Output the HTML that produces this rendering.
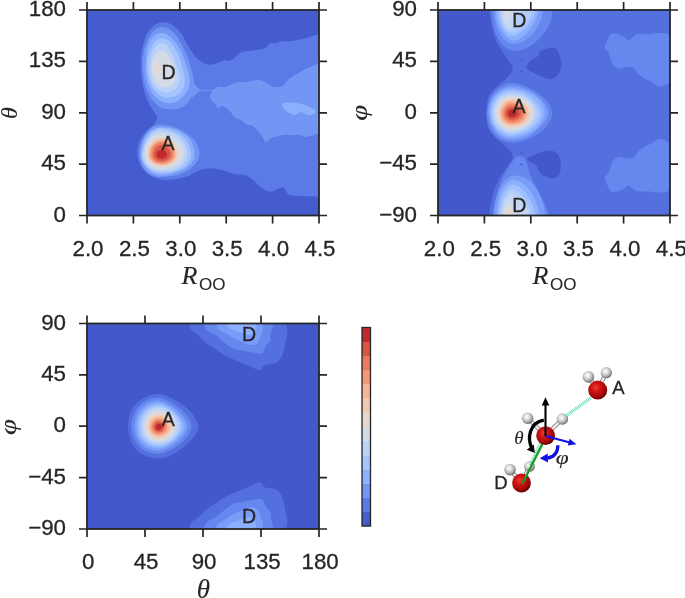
<!DOCTYPE html>
<html><head><meta charset="utf-8"><title>Figure</title>
<style>html,body{margin:0;padding:0;background:#fff}svg{display:block}text{font-family:"Liberation Sans",sans-serif;fill:#262626;stroke:#262626;stroke-width:0.3px}text.m{font-family:"Liberation Serif","DejaVu Serif",serif;font-style:italic;stroke-width:0.1px}tspan.s{font-family:"Liberation Sans",sans-serif;font-style:normal}</style>
</head><body>
<svg width="685" height="598" viewBox="0 0 685 598">
<defs>
<clipPath id="c1"><rect x="87" y="10" width="232" height="205.5"/></clipPath>
<clipPath id="c2"><rect x="438" y="10" width="232" height="205.5"/></clipPath>
<clipPath id="c3"><rect x="87" y="323.5" width="232" height="205.5"/></clipPath>
<radialGradient id="gO" cx="0.4" cy="0.36" r="0.68"><stop offset="0" stop-color="#ee3a3a"/><stop offset="0.35" stop-color="#d01414"/><stop offset="0.75" stop-color="#a00808"/><stop offset="1" stop-color="#5a0000"/></radialGradient>
<radialGradient id="gH" cx="0.42" cy="0.38" r="0.66"><stop offset="0" stop-color="#ffffff"/><stop offset="0.3" stop-color="#e4e4e4"/><stop offset="0.7" stop-color="#a8a8a8"/><stop offset="1" stop-color="#585858"/></radialGradient>
</defs>
<rect width="685" height="598" fill="#fff"/>
<g clip-path="url(#c1)">
<rect x="87" y="10" width="232" height="205.5" fill="#455cce"/>
<path d="M161.3,22.3L157.2,23.6L153.2,26.1L149.5,29.8L146.3,35.0L143.8,41.8L142.0,49.3L140.9,57.6L140.7,66.0L141.2,74.3L142.1,81.8L143.5,88.6L145.2,94.8L147.4,100.7L149.8,105.6L152.6,109.5L154.9,113.0L156.8,115.9L157.0,119.1L155.5,122.3L153.0,125.5L149.3,128.4L145.9,131.7L142.6,135.4L140.2,139.4L138.8,143.7L137.7,147.4L137.0,150.3L137.3,154.7L138.6,160.6L140.7,165.6L143.6,169.8L147.2,173.4L151.3,176.2L155.9,178.3L161.0,179.7L166.4,180.1L172.3,179.6L178.1,178.8L184.0,177.5L189.0,175.7L193.2,173.2L197.0,171.3L200.2,170.0L204.0,169.1L208.2,168.5L211.1,168.2L212.7,168.3L215.9,168.8L220.6,169.7L225.4,171.1L230.3,173.1L236.1,174.2L242.8,174.8L247.6,175.9L250.6,177.9L253.4,180.3L256.3,183.1L258.6,185.6L260.6,187.5L263.9,189.4L268.8,191.4L272.6,191.6L275.6,190.1L278.4,188.7L281.3,187.2L283.4,187.5L284.9,189.4L286.3,191.6L287.8,194.0L291.4,195.4L297.1,195.9L302.4,196.2L307.2,196.2L312.5,196.3L318.1,196.4L321.0,155.9L321.0,74.6L320.1,34.0L318.5,34.0L315.2,35.0L310.5,36.8L305.8,38.3L301.1,39.2L296.3,40.2L291.6,41.1L287.5,41.4L284.2,40.9L280.9,41.3L277.6,42.8L274.6,43.2L271.6,42.8L269.0,43.9L266.7,46.8L263.4,48.7L259.1,49.6L254.6,50.3L249.8,50.8L245.8,51.2L242.5,51.8L239.4,53.4L236.5,56.3L233.7,58.7L230.8,60.5L228.2,61.0L225.9,60.1L223.3,60.3L220.4,61.7L217.1,63.1L213.3,64.6L209.5,64.8L205.7,63.9L202.9,62.7L200.9,61.3L199.0,60.0L197.0,58.6L195.0,56.5L193.0,53.5L191.1,50.7L189.4,48.1L187.4,44.6L185.1,40.2L183.1,36.4L181.1,33.3L178.1,29.8L173.9,26.1L169.7,23.6L165.5,22.3Z" fill="#5b7ae5"/>
<path d="M213.5,89.5L215.7,87.9L217.9,87.0L220.1,86.7L222.3,86.8L224.4,87.3L226.8,86.7L229.5,85.2L232.1,83.9L234.7,82.8L237.0,82.2L239.0,81.9L241.4,81.9L244.1,82.2L247.4,81.9L251.2,81.0L254.5,80.2L257.4,79.8L260.2,80.0L263.1,80.9L266.2,82.6L269.5,85.0L272.4,86.4L274.7,86.9L277.8,86.9L281.6,86.4L284.4,84.8L286.4,81.9L288.7,79.3L291.6,76.9L294.9,74.8L298.7,72.9L302.5,70.7L306.3,68.4L311.4,66.2L317.8,64.0L321.0,80.4L321.0,115.3L318.6,133.4L313.9,134.9L310.1,136.1L307.2,137.0L304.4,136.8L301.4,135.3L298.1,134.8L294.2,135.3L290.4,135.3L286.5,134.8L282.7,135.1L278.9,136.0L275.6,136.8L272.6,137.2L269.8,138.9L266.8,141.9L264.7,141.6L263.2,138.2L261.3,135.1L258.9,132.2L256.3,129.4L253.4,126.5L250.6,125.0L247.6,125.0L245.0,123.7L242.5,121.1L240.4,119.6L238.7,119.2L236.9,118.6L235.2,117.7L233.4,116.0L231.7,113.3L229.7,110.9L227.5,108.8L225.3,107.2L223.1,106.0L220.9,106.2L218.8,107.8L217.2,107.6L216.4,105.9L215.0,103.9L213.3,101.7L211.6,99.9L210.1,98.7L210.1,96.1L211.6,92.2Z" fill="#7396f5"/>
<path d="M199,90.2L213,90.5" stroke="#7396f5" stroke-width="0.9" fill="none"/>
<path d="M283.5,103.0L287.3,102.5L291.6,102.5L296.3,103.0L301.1,103.9L305.8,105.3L309.8,107.0L313.2,108.9L315.2,110.1L315.9,110.4L315.6,111.5L314.2,113.5L312.1,114.7L309.1,115.2L306.0,114.4L302.7,112.5L300.2,112.0L298.8,113.0L297.1,114.0L295.1,114.9L292.3,114.4L288.4,112.5L285.6,110.5L283.6,108.7L282.4,106.6L281.9,104.3Z" fill="#8db0fe"/>
<path d="M193.0,82.0L200.3,90.2L192.0,98.0Z" fill="#7396f5"/>
<path d="M165.4,27.6L167.2,28.1L169.0,28.9L170.7,30.0L172.2,31.2L173.8,32.8L175.2,34.4L176.6,36.1L177.9,38.0L179.1,40.0L180.3,42.1L181.5,44.2L182.7,46.4L183.8,48.6L184.9,50.9L185.9,53.1L186.8,55.4L187.7,57.6L188.5,59.9L189.2,62.1L189.9,64.4L190.6,66.6L191.2,68.8L191.7,70.9L192.2,73.0L192.8,75.0L193.2,76.9L193.6,78.8L193.9,80.6L194.1,82.4L194.2,84.2L194.2,86.1L194.1,88.0L193.9,90.0L193.4,92.0L192.8,94.0L192.0,96.0L191.0,98.0L189.9,99.8L188.7,101.5L187.4,103.1L186.1,104.4L184.5,105.6L182.8,106.7L181.0,107.6L179.0,108.2L176.9,108.8L174.8,109.2L172.6,109.4L170.4,109.4L168.2,109.3L166.2,109.1L164.4,108.8L162.6,108.2L160.9,107.5L159.2,106.6L157.6,105.4L155.9,104.1L154.4,102.6L153.0,101.0L151.6,99.4L150.4,97.6L149.2,95.8L148.2,93.8L147.2,91.6L146.3,89.4L145.5,87.1L144.9,84.7L144.3,82.2L143.9,79.8L143.5,77.0L143.2,74.0L142.9,70.8L142.8,67.2L142.7,64.0L142.7,61.0L142.9,58.2L143.1,55.8L143.5,53.3L143.9,50.9L144.4,48.6L145.1,46.4L145.8,44.1L146.7,41.9L147.7,39.6L148.8,37.4L150.0,35.3L151.2,33.5L152.6,31.9L153.9,30.6L155.4,29.4L156.9,28.5L158.5,27.8L160.1,27.4L161.8,27.2L163.6,27.2Z" fill="#7396f5"/>
<path d="M164.8,33.5L166.4,34.1L167.9,34.9L169.3,35.9L170.6,37.0L171.9,38.3L173.1,39.5L174.3,40.9L175.4,42.3L176.6,43.8L177.6,45.4L178.7,47.2L179.7,49.0L180.7,50.9L181.6,52.9L182.4,54.8L183.2,56.8L183.9,58.7L184.6,60.6L185.3,62.5L185.9,64.3L186.6,66.2L187.2,68.1L187.7,69.9L188.2,71.7L188.7,73.4L189.0,75.1L189.3,76.7L189.5,78.2L189.6,79.7L189.7,81.2L189.6,82.7L189.5,84.3L189.2,86.0L188.8,87.6L188.2,89.2L187.4,90.8L186.5,92.3L185.5,93.8L184.4,95.0L183.3,96.3L182.1,97.4L180.9,98.5L179.6,99.6L178.1,100.6L176.5,101.5L174.8,102.2L173.0,102.7L171.1,103.1L169.1,103.2L167.2,103.0L165.5,102.8L163.9,102.3L162.3,101.8L160.9,101.1L159.4,100.3L158.0,99.3L156.6,98.1L155.3,96.9L154.0,95.5L152.9,94.1L151.8,92.5L150.9,90.9L150.0,89.1L149.3,87.3L148.5,85.3L147.9,83.4L147.3,81.4L146.8,79.4L146.4,77.3L146.0,75.0L145.8,72.5L145.6,69.7L145.5,66.8L145.6,64.1L145.7,61.6L145.8,59.3L146.0,57.3L146.3,55.2L146.5,53.1L146.8,51.1L147.2,49.0L147.7,47.0L148.3,44.9L149.1,42.9L150.1,40.9L151.2,39.1L152.3,37.6L153.5,36.4L154.7,35.3L156.0,34.4L157.4,33.8L158.8,33.3L160.2,33.0L161.7,32.9L163.2,33.1Z" fill="#8db0fe"/>
<path d="M164.0,38.6L165.3,38.9L166.6,39.4L167.8,40.1L168.9,41.0L170.0,42.0L171.1,43.2L172.1,44.4L173.0,45.8L174.0,47.2L174.9,48.6L175.8,50.1L176.7,51.7L177.5,53.3L178.3,55.0L179.0,56.6L179.6,58.3L180.2,60.0L180.6,61.7L181.1,63.4L181.4,65.0L181.8,66.6L182.1,68.2L182.5,69.6L183.0,71.1L183.4,72.5L183.8,73.9L184.1,75.3L184.4,76.6L184.7,77.9L184.8,79.2L184.8,80.6L184.7,82.0L184.6,83.5L184.3,85.0L183.9,86.5L183.4,88.0L182.7,89.5L181.9,90.9L181.0,92.1L180.1,93.2L179.0,94.1L177.9,94.9L176.6,95.6L175.2,96.1L173.8,96.6L172.3,97.0L170.8,97.3L169.2,97.5L167.6,97.7L166.0,97.7L164.6,97.5L163.2,97.1L161.9,96.7L160.7,96.0L159.6,95.1L158.4,94.1L157.3,93.0L156.3,91.9L155.2,90.8L154.3,89.7L153.3,88.6L152.4,87.3L151.6,86.0L150.8,84.6L150.2,83.0L149.6,81.4L149.0,79.7L148.6,77.9L148.2,76.1L147.8,74.2L147.5,72.0L147.3,69.6L147.1,67.0L147.1,64.6L147.1,62.4L147.3,60.4L147.6,58.6L148.0,56.9L148.5,55.3L149.0,53.8L149.5,52.2L150.1,50.6L150.7,49.0L151.4,47.4L152.1,45.7L152.9,44.2L153.8,42.8L154.7,41.6L155.7,40.7L156.8,39.9L157.9,39.3L159.0,38.9L160.2,38.6L161.4,38.5L162.7,38.5Z" fill="#a6c4fe"/>
<path d="M162.9,43.6L164.0,43.9L165.0,44.3L166.0,45.0L166.9,45.8L167.7,46.7L168.5,47.7L169.3,48.8L170.1,50.0L170.8,51.2L171.5,52.4L172.1,53.8L172.8,55.1L173.3,56.5L173.9,57.9L174.4,59.2L174.9,60.6L175.3,61.9L175.8,63.2L176.2,64.5L176.6,65.8L177.1,67.1L177.5,68.4L177.9,69.6L178.3,70.9L178.7,72.1L179.0,73.3L179.2,74.4L179.4,75.5L179.5,76.5L179.5,77.6L179.5,78.7L179.4,79.8L179.3,81.0L179.0,82.3L178.7,83.5L178.2,84.6L177.6,85.8L176.9,86.9L176.2,87.8L175.5,88.7L174.7,89.4L173.8,90.1L172.8,90.7L171.8,91.2L170.7,91.7L169.5,92.0L168.3,92.3L167.0,92.4L165.8,92.3L164.6,92.2L163.4,91.9L162.4,91.6L161.4,91.3L160.5,90.8L159.5,90.3L158.6,89.7L157.6,89.1L156.7,88.4L155.8,87.6L155.0,86.8L154.2,85.8L153.5,84.7L152.9,83.5L152.3,82.2L151.8,80.8L151.4,79.4L151.1,77.9L150.8,76.4L150.5,74.9L150.3,73.3L150.2,71.5L150.1,69.5L150.1,67.4L150.1,65.5L150.2,63.8L150.4,62.2L150.6,60.8L150.8,59.4L151.0,58.0L151.2,56.6L151.5,55.2L151.9,53.8L152.3,52.4L152.8,51.0L153.4,49.7L154.1,48.5L154.9,47.4L155.6,46.5L156.4,45.8L157.3,45.1L158.1,44.6L159.0,44.1L159.9,43.8L160.9,43.6L161.9,43.5Z" fill="#bed2f6"/>
<path d="M162.4,50.8L163.2,51.0L164.0,51.3L164.8,51.7L165.5,52.3L166.2,52.9L166.8,53.6L167.4,54.4L168.0,55.3L168.6,56.2L169.1,57.1L169.7,58.1L170.2,59.0L170.8,60.0L171.3,61.0L171.8,61.9L172.2,63.0L172.6,64.0L173.0,65.0L173.3,66.1L173.5,67.1L173.7,68.1L173.9,69.1L174.1,70.0L174.3,70.9L174.5,71.8L174.7,72.6L174.8,73.4L175.0,74.2L175.1,75.0L175.2,75.8L175.3,76.7L175.2,77.5L175.1,78.4L175.0,79.4L174.7,80.3L174.4,81.2L174.0,82.2L173.6,83.1L173.1,83.9L172.5,84.7L171.9,85.3L171.1,85.8L170.3,86.2L169.5,86.5L168.5,86.7L167.6,86.9L166.6,87.0L165.6,87.1L164.6,87.1L163.7,87.1L162.8,87.1L161.9,87.0L161.1,86.8L160.4,86.4L159.6,85.9L158.9,85.4L158.2,84.7L157.5,83.9L156.9,83.2L156.3,82.4L155.8,81.7L155.3,80.9L154.8,80.0L154.3,79.1L153.9,78.1L153.5,77.1L153.2,76.1L153.0,75.0L152.7,73.9L152.5,72.7L152.3,71.4L152.2,69.9L152.0,68.4L151.9,66.9L151.9,65.5L151.9,64.2L152.1,63.1L152.3,62.0L152.5,61.0L152.9,60.0L153.2,59.1L153.7,58.1L154.1,57.2L154.6,56.3L155.1,55.3L155.6,54.4L156.1,53.6L156.7,52.8L157.3,52.2L157.9,51.6L158.6,51.2L159.3,50.9L160.1,50.8L160.8,50.7L161.6,50.7Z" fill="#d3dbe7"/>
<path d="M158.3,61.6L158.5,61.7L158.7,61.8L158.9,62.0L159.1,62.2L159.2,62.4L159.4,62.6L159.6,62.9L159.7,63.2L159.8,63.5L160.0,63.8L160.1,64.2L160.2,64.5L160.3,64.9L160.4,65.3L160.5,65.7L160.6,66.0L160.7,66.4L160.8,66.7L160.9,67.1L161.0,67.4L161.0,67.8L161.1,68.1L161.2,68.4L161.2,68.8L161.3,69.1L161.3,69.4L161.4,69.7L161.4,70.0L161.5,70.2L161.5,70.5L161.5,70.8L161.5,71.2L161.5,71.5L161.4,71.8L161.3,72.1L161.2,72.4L161.1,72.7L161.0,73.0L160.9,73.3L160.7,73.5L160.6,73.7L160.4,73.9L160.2,74.1L160.0,74.3L159.8,74.4L159.6,74.5L159.3,74.5L159.1,74.5L158.9,74.5L158.6,74.4L158.4,74.3L158.2,74.3L158.0,74.2L157.8,74.1L157.7,73.9L157.5,73.8L157.3,73.6L157.1,73.3L157.0,73.1L156.8,72.9L156.7,72.6L156.5,72.3L156.4,72.0L156.3,71.7L156.2,71.4L156.1,71.0L156.0,70.7L155.9,70.3L155.9,69.9L155.8,69.4L155.8,68.9L155.8,68.4L155.8,67.9L155.8,67.4L155.8,66.9L155.9,66.5L155.9,66.1L155.9,65.7L156.0,65.3L156.0,65.0L156.1,64.6L156.2,64.2L156.3,63.9L156.4,63.5L156.5,63.2L156.6,62.9L156.8,62.6L156.9,62.4L157.1,62.2L157.2,62.0L157.4,61.8L157.6,61.7L157.7,61.6L157.9,61.6L158.1,61.6Z" fill="#e6d7cf"/>
<path d="M199.4,154.6L198.8,157.8L197.4,160.9L195.5,163.7L193.3,166.2L190.9,168.3L188.4,170.2L185.8,171.7L183.3,173.0L180.7,174.0L178.3,174.7L175.8,175.3L173.5,175.7L171.3,176.1L169.2,176.3L167.2,176.5L165.2,176.7L163.3,176.9L161.3,177.0L159.3,177.0L157.4,176.8L155.4,176.5L153.5,175.9L151.7,175.2L149.9,174.3L148.3,173.2L146.7,172.0L145.3,170.6L144.0,169.1L142.9,167.4L142.0,165.7L141.3,163.9L140.8,162.0L140.4,160.2L140.0,158.3L139.8,156.4L139.6,154.6L139.5,152.6L139.6,150.7L139.7,148.8L140.0,146.8L140.4,144.8L141.1,142.9L141.8,140.9L142.7,138.9L143.7,136.9L144.8,134.9L146.2,132.9L147.7,131.0L149.5,129.1L151.5,127.5L153.7,126.2L156.2,125.3L158.7,124.8L161.3,124.7L163.9,124.9L166.5,125.2L169.0,125.7L171.6,126.3L174.1,127.0L176.7,127.9L179.2,129.0L181.7,130.3L184.1,131.7L186.6,133.3L189.0,135.1L191.4,137.2L193.7,139.4L195.7,142.0L197.4,144.9L198.6,148.0L199.3,151.2Z" fill="#7396f5"/>
<path d="M194.4,154.6L194.1,157.4L193.2,160.2L191.9,162.7L190.0,165.0L187.9,166.9L185.6,168.6L183.2,169.9L180.8,170.9L178.5,171.8L176.4,172.5L174.3,173.1L172.4,173.7L170.5,174.2L168.6,174.7L166.8,175.1L165.0,175.3L163.1,175.4L161.3,175.4L159.5,175.3L157.7,175.0L156.0,174.5L154.3,173.9L152.6,173.1L151.1,172.3L149.6,171.3L148.2,170.1L147.0,168.9L145.8,167.6L144.7,166.2L143.8,164.7L142.9,163.2L142.1,161.5L141.4,159.9L140.9,158.1L140.6,156.4L140.5,154.6L140.6,152.7L140.8,150.9L141.1,149.1L141.4,147.3L141.8,145.5L142.3,143.6L142.9,141.7L143.6,139.7L144.5,137.8L145.6,135.9L147.0,134.1L148.6,132.5L150.3,131.0L152.3,129.8L154.4,128.8L156.6,128.0L158.9,127.5L161.3,127.3L163.7,127.3L166.1,127.4L168.5,127.7L170.9,128.1L173.4,128.7L175.8,129.4L178.2,130.4L180.6,131.6L182.9,132.9L185.2,134.5L187.3,136.4L189.2,138.5L190.8,140.8L192.1,143.3L193.1,146.0L193.8,148.8L194.3,151.7Z" fill="#8db0fe"/>
<path d="M190.9,154.6L190.8,157.1L190.1,159.6L189.0,162.0L187.4,164.1L185.6,165.9L183.6,167.4L181.5,168.7L179.5,169.8L177.4,170.6L175.4,171.3L173.4,171.9L171.5,172.3L169.7,172.5L167.9,172.7L166.2,172.8L164.5,172.9L162.9,172.9L161.3,172.9L159.7,172.9L158.1,172.8L156.5,172.6L154.9,172.3L153.3,171.7L151.8,171.0L150.4,170.1L149.1,169.1L147.9,168.0L146.7,166.8L145.7,165.5L144.7,164.2L143.8,162.7L143.0,161.2L142.4,159.6L142.0,158.0L141.8,156.3L141.8,154.6L141.9,152.9L142.2,151.2L142.5,149.5L142.9,147.8L143.3,146.1L143.8,144.4L144.4,142.7L145.1,141.0L146.0,139.2L147.0,137.5L148.2,135.8L149.5,134.1L151.0,132.5L152.7,131.0L154.6,129.7L156.8,128.7L159.0,128.1L161.3,127.9L163.6,128.1L165.9,128.5L168.1,129.0L170.3,129.7L172.5,130.5L174.7,131.4L176.8,132.4L178.9,133.5L181.0,134.9L182.9,136.4L184.6,138.2L186.2,140.2L187.5,142.3L188.6,144.6L189.4,147.0L190.1,149.5L190.6,152.0Z" fill="#a6c4fe"/>
<path d="M187.5,154.6L187.2,156.8L186.5,159.0L185.4,161.0L184.1,162.8L182.6,164.5L181.0,165.9L179.4,167.2L177.7,168.3L175.9,169.2L174.2,169.9L172.4,170.4L170.6,170.7L168.9,170.9L167.3,171.0L165.8,171.1L164.2,171.2L162.8,171.2L161.3,171.3L159.8,171.3L158.4,171.2L156.9,170.9L155.5,170.6L154.1,170.0L152.7,169.4L151.4,168.7L150.1,167.9L148.9,166.9L147.8,165.9L146.7,164.8L145.8,163.5L144.9,162.2L144.3,160.8L143.7,159.3L143.3,157.7L143.1,156.1L143.0,154.6L143.0,153.0L143.1,151.3L143.3,149.7L143.7,148.1L144.1,146.6L144.7,145.0L145.5,143.5L146.3,141.9L147.2,140.4L148.2,138.9L149.2,137.3L150.5,135.7L151.8,134.2L153.4,132.9L155.2,131.7L157.1,130.8L159.2,130.3L161.3,130.2L163.4,130.3L165.5,130.6L167.6,131.1L169.6,131.7L171.7,132.3L173.6,133.2L175.5,134.2L177.4,135.4L179.1,136.8L180.7,138.3L182.1,140.0L183.4,141.8L184.6,143.7L185.6,145.7L186.4,147.8L187.0,150.0L187.4,152.3Z" fill="#bed2f6"/>
<path d="M183.7,154.6L183.4,156.5L182.9,158.4L182.0,160.1L180.9,161.7L179.6,163.1L178.2,164.3L176.7,165.3L175.2,166.2L173.7,166.9L172.2,167.6L170.8,168.1L169.4,168.5L168.0,168.9L166.6,169.2L165.3,169.4L163.9,169.5L162.6,169.6L161.3,169.6L160.0,169.6L158.7,169.5L157.4,169.3L156.0,169.1L154.7,168.7L153.4,168.3L152.1,167.6L151.0,166.9L149.9,166.0L149.0,164.9L148.1,163.8L147.3,162.6L146.6,161.4L146.0,160.1L145.5,158.8L145.0,157.4L144.7,156.0L144.5,154.6L144.5,153.1L144.6,151.6L144.8,150.1L145.1,148.6L145.4,147.2L145.9,145.7L146.5,144.2L147.1,142.7L147.9,141.2L148.9,139.7L150.0,138.4L151.3,137.1L152.7,136.0L154.2,135.0L155.9,134.2L157.6,133.6L159.4,133.2L161.3,133.0L163.2,133.1L165.0,133.4L166.8,133.9L168.6,134.6L170.3,135.3L171.9,136.2L173.5,137.2L175.0,138.2L176.6,139.3L178.0,140.5L179.4,141.9L180.7,143.4L181.7,145.0L182.6,146.8L183.2,148.7L183.5,150.6L183.7,152.6Z" fill="#d3dbe7"/>
<path d="M179.0,154.6L178.9,156.1L178.5,157.6L177.9,159.0L177.1,160.3L176.2,161.5L175.1,162.5L173.9,163.4L172.7,164.1L171.4,164.7L170.2,165.2L169.1,165.6L167.9,166.0L166.8,166.3L165.7,166.6L164.6,166.9L163.5,167.1L162.4,167.2L161.3,167.3L160.2,167.2L159.1,167.1L158.0,166.9L156.9,166.7L155.8,166.3L154.8,165.9L153.7,165.4L152.8,164.7L151.9,164.0L151.0,163.2L150.2,162.3L149.4,161.4L148.7,160.4L148.0,159.4L147.5,158.3L147.0,157.1L146.7,155.8L146.6,154.6L146.6,153.3L146.8,152.0L147.0,150.7L147.3,149.5L147.7,148.2L148.1,146.9L148.6,145.7L149.2,144.4L149.9,143.2L150.8,142.0L151.7,140.9L152.9,139.9L154.1,139.1L155.4,138.4L156.8,137.9L158.3,137.5L159.8,137.3L161.3,137.2L162.8,137.3L164.3,137.5L165.8,137.8L167.2,138.2L168.7,138.8L170.0,139.4L171.4,140.2L172.7,141.0L173.9,142.0L175.1,143.0L176.1,144.2L177.0,145.5L177.7,146.9L178.3,148.4L178.6,149.9L178.9,151.5L179.0,153.0Z" fill="#e6d7cf"/>
<path d="M177.2,154.6L177.0,155.9L176.7,157.3L176.1,158.5L175.4,159.7L174.5,160.7L173.7,161.7L172.7,162.5L171.7,163.3L170.7,164.0L169.7,164.5L168.6,165.0L167.5,165.3L166.4,165.5L165.4,165.7L164.3,165.7L163.3,165.8L162.3,165.8L161.3,165.8L160.3,165.8L159.3,165.7L158.3,165.6L157.4,165.4L156.4,165.1L155.4,164.7L154.5,164.2L153.6,163.7L152.8,163.1L151.9,162.4L151.1,161.7L150.3,160.9L149.6,160.0L149.0,159.0L148.5,158.0L148.1,156.9L147.9,155.7L147.8,154.6L147.8,153.4L147.9,152.2L148.1,151.0L148.3,149.8L148.7,148.7L149.2,147.6L149.8,146.5L150.4,145.4L151.2,144.4L152.0,143.5L152.9,142.6L153.9,141.7L154.9,140.8L156.0,140.0L157.2,139.3L158.5,138.8L159.9,138.5L161.3,138.4L162.7,138.4L164.1,138.7L165.5,139.0L166.8,139.5L168.1,140.0L169.4,140.6L170.6,141.3L171.7,142.1L172.8,143.1L173.8,144.1L174.6,145.3L175.3,146.5L175.9,147.8L176.4,149.1L176.7,150.4L177.0,151.8L177.1,153.2Z" fill="#f2c9b4"/>
<path d="M176.0,154.6L175.9,155.8L175.6,157.1L175.1,158.2L174.4,159.3L173.5,160.3L172.6,161.1L171.7,161.8L170.8,162.5L169.9,163.1L168.9,163.6L168.0,164.0L167.0,164.4L166.0,164.6L165.0,164.8L164.1,164.9L163.1,164.9L162.2,164.9L161.3,164.8L160.4,164.8L159.5,164.7L158.6,164.5L157.7,164.4L156.8,164.1L156.0,163.8L155.1,163.5L154.2,163.0L153.4,162.5L152.5,161.9L151.7,161.3L151.0,160.5L150.4,159.7L149.8,158.7L149.4,157.7L149.2,156.7L149.0,155.6L149.0,154.6L149.1,153.5L149.2,152.4L149.3,151.3L149.5,150.3L149.8,149.2L150.2,148.1L150.6,147.1L151.2,146.1L151.9,145.1L152.7,144.2L153.5,143.4L154.4,142.6L155.4,141.8L156.4,141.1L157.5,140.5L158.7,140.0L160.0,139.6L161.3,139.5L162.6,139.5L163.9,139.6L165.2,140.0L166.5,140.4L167.7,141.0L168.8,141.6L169.8,142.4L170.8,143.2L171.7,144.1L172.5,145.1L173.3,146.2L173.9,147.3L174.4,148.4L174.9,149.6L175.3,150.8L175.6,152.0L175.8,153.3Z" fill="#f7b497"/>
<path d="M174.3,154.6L174.1,155.7L173.8,156.8L173.4,157.8L172.8,158.7L172.1,159.6L171.4,160.4L170.6,161.1L169.8,161.7L168.9,162.2L168.1,162.6L167.2,163.0L166.4,163.3L165.5,163.6L164.7,163.8L163.8,163.9L163.0,164.0L162.1,164.0L161.3,164.0L160.5,163.9L159.7,163.7L158.9,163.6L158.1,163.4L157.3,163.2L156.5,162.9L155.7,162.6L154.9,162.2L154.1,161.7L153.4,161.2L152.8,160.5L152.2,159.8L151.7,159.0L151.2,158.2L150.8,157.4L150.5,156.5L150.2,155.5L150.1,154.6L150.1,153.6L150.1,152.6L150.3,151.6L150.5,150.6L150.8,149.6L151.2,148.7L151.6,147.8L152.1,146.9L152.7,146.0L153.4,145.1L154.2,144.4L155.0,143.7L155.9,143.0L156.9,142.5L157.9,142.0L159.0,141.6L160.2,141.3L161.3,141.1L162.5,141.1L163.7,141.2L164.8,141.4L166.0,141.8L167.0,142.3L168.1,142.9L169.0,143.6L169.9,144.3L170.7,145.2L171.5,146.0L172.2,146.9L172.8,147.9L173.4,148.9L173.8,150.0L174.1,151.1L174.3,152.3L174.3,153.4Z" fill="#f4987a"/>
<path d="M172.8,154.6L172.8,155.6L172.6,156.5L172.2,157.5L171.7,158.3L171.0,159.1L170.3,159.7L169.5,160.3L168.7,160.7L167.9,161.1L167.1,161.4L166.3,161.7L165.6,162.0L164.9,162.2L164.2,162.4L163.5,162.6L162.8,162.7L162.0,162.8L161.3,162.8L160.6,162.8L159.9,162.7L159.1,162.6L158.4,162.5L157.7,162.2L157.0,162.0L156.3,161.7L155.7,161.3L155.1,160.8L154.5,160.3L153.9,159.7L153.4,159.1L152.9,158.5L152.5,157.8L152.2,157.0L151.9,156.2L151.8,155.4L151.8,154.6L151.8,153.7L151.9,152.9L152.1,152.1L152.3,151.3L152.5,150.4L152.7,149.6L153.0,148.7L153.3,147.9L153.8,147.0L154.3,146.2L155.0,145.5L155.7,144.8L156.5,144.3L157.4,143.8L158.3,143.5L159.3,143.3L160.3,143.1L161.3,143.1L162.3,143.1L163.3,143.2L164.3,143.5L165.2,143.8L166.2,144.2L167.0,144.6L167.9,145.2L168.7,145.8L169.4,146.4L170.1,147.1L170.8,147.9L171.3,148.8L171.8,149.7L172.2,150.6L172.4,151.6L172.7,152.6L172.8,153.5Z" fill="#e97a5f"/>
<path d="M170.4,154.6L170.3,155.3L170.1,156.1L169.8,156.8L169.4,157.5L168.9,158.1L168.4,158.7L167.9,159.1L167.3,159.5L166.7,159.9L166.0,160.2L165.4,160.4L164.8,160.6L164.2,160.7L163.6,160.8L163.0,160.9L162.4,161.0L161.9,161.0L161.3,160.9L160.8,160.9L160.2,160.8L159.7,160.7L159.1,160.6L158.6,160.4L158.0,160.3L157.4,160.1L156.9,159.8L156.3,159.5L155.8,159.2L155.4,158.7L155.0,158.2L154.6,157.7L154.3,157.1L154.0,156.5L153.8,155.9L153.7,155.2L153.7,154.6L153.7,153.9L153.7,153.2L153.8,152.5L154.0,151.9L154.2,151.2L154.5,150.6L154.8,150.0L155.2,149.4L155.6,148.8L156.0,148.2L156.5,147.7L157.1,147.2L157.7,146.7L158.3,146.3L159.0,146.0L159.8,145.7L160.5,145.6L161.3,145.5L162.1,145.4L162.9,145.5L163.7,145.6L164.5,145.9L165.2,146.2L165.9,146.6L166.5,147.1L167.1,147.6L167.7,148.2L168.2,148.8L168.7,149.4L169.1,150.0L169.5,150.7L169.9,151.4L170.1,152.2L170.3,153.0L170.4,153.8Z" fill="#d85646"/>
<path d="M167.0,154.6L167.0,155.0L166.8,155.5L166.6,156.0L166.4,156.4L166.1,156.8L165.8,157.1L165.5,157.5L165.1,157.7L164.7,158.0L164.4,158.2L164.0,158.4L163.6,158.5L163.2,158.6L162.8,158.7L162.4,158.7L162.1,158.8L161.7,158.8L161.3,158.9L160.9,158.9L160.6,158.9L160.2,158.8L159.8,158.7L159.4,158.6L159.1,158.5L158.7,158.3L158.3,158.1L158.0,157.9L157.7,157.6L157.4,157.3L157.2,156.9L157.0,156.6L156.8,156.2L156.7,155.8L156.6,155.4L156.5,155.0L156.5,154.6L156.5,154.1L156.5,153.7L156.6,153.3L156.7,152.9L156.9,152.5L157.1,152.1L157.3,151.8L157.6,151.5L157.9,151.2L158.2,150.9L158.6,150.6L158.9,150.4L159.3,150.2L159.7,150.1L160.1,150.0L160.5,149.9L160.9,149.9L161.3,149.9L161.7,149.9L162.1,149.9L162.5,150.0L162.9,150.1L163.3,150.2L163.7,150.4L164.1,150.6L164.5,150.8L164.8,151.0L165.2,151.3L165.6,151.6L165.9,151.9L166.2,152.3L166.5,152.7L166.8,153.1L166.9,153.6L167.0,154.1Z" fill="#c12b30"/>
</g>
<g clip-path="url(#c2)">
<rect x="438" y="10" width="232" height="205.5" fill="#4358cb"/>
<path d="M489.3,-6.5L489.3,0.5L489.3,6.1L489.3,10.3L489.8,15.2L490.7,20.6L491.9,26.6L493.2,33.1L495.3,39.1L498.1,44.6L501.3,50.1L505.0,55.6L508.7,60.9L512.6,65.9L512.6,70.9L508.7,75.9L504.5,80.2L499.9,83.9L495.8,87.6L492.1,91.3L489.5,94.8L487.8,98.3L486.8,103.2L486.5,109.6L486.5,115.9L486.8,122.3L487.8,127.2L489.5,130.7L492.1,134.2L495.8,137.9L499.9,141.5L504.5,145.2L508.7,149.6L512.6,154.6L512.6,159.6L508.7,164.6L505.0,169.8L501.3,175.3L498.1,180.9L495.3,186.4L493.2,192.4L491.9,198.9L490.7,204.8L489.8,210.3L489.3,215.2L489.3,219.4L489.3,225.0L489.3,232.0L542.0,236.6L647.3,238.9L700.0,175.0L700.0,45.0L647.3,-17.5L542.0,-12.5Z" fill="#5470de"/>
<path d="M526.6,65.8L529.4,62.1L532.6,59.3L536.3,57.5L538.6,55.2L539.5,52.4L541.8,50.3L545.5,49.0L549.1,48.1L552.9,47.6L555.6,48.3L557.5,50.1L558.8,52.9L559.8,56.5L560.7,59.8L561.6,62.5L561.6,65.8L560.7,69.4L559.3,72.7L557.5,75.4L555.2,77.5L552.4,78.9L549.2,79.1L545.5,78.2L541.9,76.8L538.1,75.0L534.4,73.2L530.8,71.3L528.0,69.7L526.1,68.3Z" fill="#4358cb"/>
<path d="M530.8,156.2L535.8,154.0L541.3,152.2L547.1,150.7L551.9,150.7L555.5,152.2L558.1,154.4L559.6,157.3L560.5,161.0L560.8,165.3L560.5,169.7L559.3,174.1L557.3,177.0L554.5,178.5L551.5,178.6L548.7,177.6L545.7,176.4L542.8,175.4L540.6,173.7L539.1,171.5L537.8,169.0L536.8,166.0L534.6,163.9L531.2,162.4L528.8,161.0L527.2,159.7L526.8,158.6L527.8,157.7Z" fill="#4358cb"/>
<path d="M604.8,46.1L606.7,42.0L608.3,38.3L609.6,35.1L611.9,33.5L615.2,33.5L618.4,34.2L621.6,35.6L624.6,37.4L627.3,39.7L629.9,39.7L632.1,37.4L634.7,35.6L637.4,34.2L641.1,33.7L645.7,34.2L650.3,33.9L654.9,33.1L660.9,33.1L668.3,33.9L672.0,46.3L672.0,70.2L668.8,83.6L662.2,86.3L657.6,86.6L654.9,84.2L652.1,82.4L649.4,81.1L646.6,79.7L643.9,78.3L641.1,76.4L638.4,74.2L636.3,71.6L634.9,68.9L632.6,67.3L629.4,66.8L626.4,67.0L623.7,68.0L620.9,68.4L618.2,68.4L615.6,67.2L613.4,64.9L611.7,62.2L610.8,59.0L609.8,56.0L609.0,53.3L607.4,51.0L605.0,49.1Z" fill="#6687ed"/>
<path d="M604.8,179.4L606.7,183.5L608.3,187.2L609.6,190.4L611.9,192.0L615.2,192.0L618.4,191.3L621.6,189.9L624.6,188.1L627.3,185.8L629.9,185.8L632.1,188.1L634.7,189.9L637.4,191.3L641.1,191.8L645.7,191.3L650.3,191.5L654.9,192.5L660.9,192.5L668.3,191.5L672.0,179.1L672.0,155.2L668.8,141.9L662.2,139.2L657.6,139.0L654.9,141.2L652.1,143.1L649.4,144.4L646.6,145.8L643.9,147.2L641.1,149.1L638.4,151.3L636.3,153.9L634.9,156.6L632.6,158.2L629.4,158.7L626.4,158.5L623.7,157.5L620.9,157.1L618.2,157.1L615.6,158.2L613.4,160.5L611.7,163.3L610.8,166.5L609.8,169.5L609.0,172.2L607.4,174.5L605.0,176.4Z" fill="#6687ed"/>
<path d="M552.6,8.0L552.5,11.2L552.2,14.5L551.6,17.7L550.8,20.8L549.6,23.9L548.2,26.9L546.5,29.7L544.6,32.4L542.5,35.0L540.2,37.5L537.8,39.9L535.3,42.2L532.5,44.5L529.5,46.5L526.3,48.3L522.8,49.6L519.2,50.5L515.5,50.9L511.8,50.4L508.2,49.2L505.0,47.1L502.2,44.5L499.9,41.5L497.9,38.4L496.4,35.3L495.2,32.2L494.3,29.2L493.5,26.4L493.0,23.8L492.6,21.2L492.2,18.9L491.9,16.6L491.7,14.4L491.5,12.2L491.4,10.1L491.3,8.0L491.4,5.9L491.5,3.8L491.7,1.6L491.9,-0.6L492.1,-2.9L492.4,-5.4L492.7,-7.9L493.2,-10.7L493.9,-13.6L494.8,-16.6L496.1,-19.7L497.8,-22.7L499.8,-25.6L502.3,-28.3L505.2,-30.6L508.4,-32.3L511.9,-33.4L515.5,-33.7L519.1,-33.5L522.7,-32.8L526.2,-31.8L529.5,-30.3L532.6,-28.6L535.5,-26.6L538.2,-24.4L540.7,-22.0L543.0,-19.5L545.0,-16.8L546.9,-14.0L548.4,-11.0L549.8,-8.0L550.8,-4.9L551.6,-1.7L552.2,1.5L552.5,4.8Z" fill="#6687ed"/>
<path d="M543.0,8.0L542.9,10.5L542.5,12.9L542.0,15.3L541.4,17.7L540.6,20.0L539.7,22.4L538.6,24.7L537.5,27.0L536.1,29.3L534.6,31.6L532.8,33.7L530.8,35.8L528.6,37.6L526.2,39.4L523.6,40.9L520.8,42.2L517.9,43.3L514.8,43.9L511.7,43.7L508.7,42.7L505.9,41.1L503.5,39.0L501.5,36.6L499.8,33.9L498.5,31.3L497.5,28.7L496.6,26.2L496.0,23.8L495.4,21.6L495.0,19.4L494.6,17.4L494.4,15.4L494.2,13.5L494.1,11.6L494.1,9.8L494.1,8.0L494.2,6.2L494.2,4.4L494.4,2.5L494.5,0.6L494.8,-1.3L495.1,-3.4L495.6,-5.5L496.2,-7.6L496.9,-9.9L497.7,-12.4L498.7,-14.9L500.0,-17.6L501.6,-20.4L503.5,-23.1L505.8,-25.5L508.5,-27.5L511.6,-28.7L514.8,-28.9L518.0,-28.3L521.0,-27.0L523.7,-25.3L526.2,-23.4L528.5,-21.4L530.6,-19.4L532.5,-17.3L534.3,-15.2L535.8,-13.0L537.2,-10.8L538.4,-8.5L539.5,-6.2L540.4,-3.9L541.2,-1.6L541.8,0.8L542.4,3.1L542.8,5.6Z" fill="#799cf8"/>
<path d="M538.6,8.0L538.5,10.2L538.2,12.3L537.7,14.5L537.1,16.6L536.3,18.6L535.4,20.6L534.3,22.6L533.1,24.5L531.9,26.4L530.5,28.3L529.0,30.2L527.4,32.1L525.7,34.1L523.7,35.9L521.4,37.6L519.0,39.0L516.3,40.1L513.5,40.5L510.7,39.8L508.2,38.3L505.9,36.3L504.0,34.1L502.4,31.8L501.1,29.6L499.9,27.4L499.0,25.3L498.2,23.3L497.6,21.3L497.1,19.5L496.7,17.7L496.4,16.0L496.1,14.3L495.9,12.7L495.8,11.1L495.7,9.6L495.7,8.0L495.8,6.5L496.0,4.9L496.2,3.4L496.4,1.8L496.7,0.2L497.0,-1.5L497.3,-3.3L497.7,-5.2L498.3,-7.2L499.0,-9.3L499.8,-11.5L500.9,-13.7L502.3,-16.0L503.9,-18.3L505.9,-20.4L508.1,-22.3L510.7,-23.8L513.5,-24.5L516.3,-24.1L519.0,-23.1L521.5,-21.7L523.7,-20.1L525.8,-18.3L527.6,-16.3L529.2,-14.4L530.6,-12.4L531.9,-10.4L533.0,-8.4L534.1,-6.4L535.0,-4.4L535.9,-2.4L536.6,-0.4L537.3,1.6L537.9,3.7L538.3,5.8Z" fill="#8db0fe"/>
<path d="M536.2,8.0L535.9,10.0L535.3,12.0L534.6,13.9L533.9,15.8L533.1,17.6L532.2,19.4L531.2,21.1L530.2,22.8L529.0,24.5L527.7,26.2L526.3,27.7L524.7,29.1L523.0,30.5L521.2,31.9L519.2,33.1L517.1,34.3L514.9,35.4L512.5,36.1L510.1,35.5L507.9,34.2L506.0,32.4L504.3,30.4L503.0,28.3L502.0,26.3L501.1,24.3L500.4,22.4L499.8,20.7L499.3,19.1L498.9,17.5L498.6,16.0L498.4,14.6L498.2,13.2L498.1,11.9L498.0,10.6L497.9,9.3L497.9,8.0L497.9,6.7L498.0,5.4L498.1,4.1L498.3,2.8L498.5,1.5L498.8,0.1L499.2,-1.3L499.6,-2.8L500.1,-4.4L500.6,-6.1L501.3,-8.0L502.1,-10.1L503.0,-12.3L504.3,-14.6L505.8,-16.9L507.8,-18.9L510.0,-20.3L512.5,-20.9L515.0,-20.2L517.3,-19.0L519.4,-17.6L521.3,-16.1L523.0,-14.5L524.6,-13.0L526.1,-11.4L527.4,-9.8L528.7,-8.2L529.8,-6.5L530.9,-4.9L531.9,-3.2L532.9,-1.5L533.8,0.3L534.6,2.1L535.3,4.0L535.9,6.0Z" fill="#a1c0ff"/>
<path d="M533.4,8.0L533.0,9.9L532.5,11.7L531.8,13.4L531.1,15.1L530.3,16.8L529.5,18.4L528.6,20.0L527.7,21.6L526.6,23.1L525.4,24.6L524.1,25.9L522.6,27.2L521.0,28.5L519.4,29.6L517.6,30.7L515.7,31.7L513.7,32.6L511.5,33.1L509.4,32.6L507.4,31.2L505.8,29.3L504.5,27.3L503.4,25.3L502.6,23.4L502.0,21.6L501.5,20.0L501.0,18.5L500.7,17.1L500.4,15.8L500.1,14.6L499.9,13.4L499.7,12.3L499.6,11.2L499.5,10.1L499.4,9.1L499.4,8.0L499.4,6.9L499.4,5.9L499.5,4.8L499.7,3.7L499.9,2.6L500.1,1.4L500.4,0.2L500.7,-1.0L501.1,-2.4L501.6,-3.8L502.1,-5.5L502.7,-7.3L503.5,-9.2L504.5,-11.3L505.8,-13.4L507.4,-15.4L509.3,-16.8L511.5,-17.5L513.7,-16.9L515.7,-15.9L517.6,-14.8L519.4,-13.6L521.0,-12.4L522.5,-11.1L524.0,-9.8L525.3,-8.4L526.5,-7.0L527.6,-5.5L528.6,-4.0L529.5,-2.4L530.4,-0.8L531.2,0.8L531.9,2.5L532.6,4.3L533.1,6.1Z" fill="#b3cdfb"/>
<path d="M519.0,8.0L519.0,8.8L519.0,9.6L518.9,10.4L518.8,11.2L518.7,12.0L518.5,12.9L518.2,13.8L517.9,14.7L517.6,15.6L517.3,16.7L516.9,17.8L516.4,19.1L515.9,20.6L515.2,22.3L514.3,24.1L513.2,26.1L511.8,28.0L510.0,29.3L508.2,28.6L506.6,27.1L505.4,25.2L504.4,23.4L503.7,21.6L503.1,20.0L502.6,18.5L502.3,17.2L502.0,16.0L501.8,14.9L501.6,13.9L501.5,12.9L501.4,12.0L501.3,11.2L501.2,10.3L501.2,9.6L501.2,8.8L501.2,8.0L501.3,7.2L501.3,6.5L501.4,5.7L501.5,4.9L501.6,4.1L501.7,3.2L501.8,2.2L501.9,1.2L502.0,0.0L502.2,-1.2L502.6,-2.6L503.0,-4.1L503.6,-5.8L504.3,-7.5L505.3,-9.4L506.6,-11.2L508.2,-12.6L510.0,-13.3L511.8,-12.1L513.2,-10.2L514.4,-8.3L515.2,-6.4L515.9,-4.7L516.5,-3.2L516.9,-1.9L517.3,-0.7L517.6,0.4L517.9,1.4L518.1,2.3L518.3,3.2L518.5,4.1L518.6,4.9L518.7,5.7L518.8,6.4L518.9,7.2Z" fill="#c5d6f2"/>
<path d="M511.5,8.0L511.5,8.4L511.5,8.8L511.5,9.2L511.4,9.6L511.4,10.1L511.4,10.5L511.3,11.0L511.2,11.5L511.1,12.1L511.0,12.8L510.8,13.5L510.6,14.3L510.4,15.3L510.1,16.5L509.7,18.0L509.1,19.8L508.2,21.8L507.0,23.3L505.8,21.8L505.0,19.3L504.6,17.1L504.3,15.4L504.2,14.1L504.1,13.1L504.0,12.3L503.9,11.6L503.9,11.1L503.9,10.6L503.8,10.2L503.8,9.8L503.8,9.5L503.8,9.2L503.8,8.9L503.8,8.6L503.8,8.3L503.8,8.0L503.8,7.7L503.8,7.4L503.8,7.2L503.9,6.9L503.9,6.5L503.9,6.2L503.9,5.8L503.9,5.4L503.9,4.9L504.0,4.4L504.0,3.7L504.0,2.9L504.1,1.8L504.3,0.5L504.5,-1.2L505.0,-3.4L505.8,-6.0L507.0,-7.5L508.2,-5.9L509.1,-3.9L509.7,-2.1L510.1,-0.6L510.4,0.6L510.7,1.6L510.9,2.5L511.0,3.2L511.1,3.9L511.2,4.5L511.2,5.1L511.2,5.5L511.3,6.0L511.3,6.4L511.4,6.8L511.4,7.2L511.5,7.6Z" fill="#d5dbe5"/>
<path d="M492.8,214.9L493.5,208.6L494.6,202.6L496.1,196.7L498.1,190.2L500.6,182.8L503.5,176.3L506.9,170.4L509.9,165.3L512.8,161.0L514.7,158.2L515.6,157.1L518.0,156.5L522.0,156.5L524.9,158.5L526.5,162.6L527.9,166.8L529.1,171.2L530.7,176.0L532.9,181.0L535.5,186.1L538.4,191.3L541.3,197.1L544.2,203.6L547.0,209.7L549.5,215.2L536.2,218.0L507.0,218.0Z" fill="#6687ed"/>
<path d="M545.1,217.5L544.9,220.1L544.5,222.7L544.1,225.3L543.7,227.9L543.1,230.6L542.4,233.3L541.6,236.1L540.6,239.0L539.3,241.8L537.8,244.6L535.9,247.4L533.8,250.1L531.4,252.6L528.6,254.9L525.5,256.8L522.2,258.4L518.7,259.3L515.0,259.6L511.4,258.9L508.0,257.1L505.1,254.5L502.7,251.4L500.7,248.2L499.1,245.0L497.9,242.0L496.9,239.1L496.1,236.4L495.4,233.9L495.0,231.5L494.7,229.2L494.5,227.1L494.4,225.0L494.3,223.1L494.2,221.2L494.1,219.3L494.0,217.5L493.9,215.7L493.9,213.8L494.0,211.9L494.1,209.9L494.3,207.9L494.7,205.8L495.1,203.6L495.6,201.2L496.2,198.7L497.0,196.0L497.9,193.1L499.1,190.0L500.6,186.7L502.6,183.5L505.1,180.4L508.0,177.9L511.4,176.2L515.0,175.6L518.7,175.8L522.2,176.6L525.6,178.1L528.7,180.0L531.4,182.3L533.8,184.9L535.9,187.7L537.6,190.5L539.1,193.4L540.4,196.2L541.5,199.0L542.5,201.7L543.3,204.3L544.0,206.9L544.6,209.6L544.9,212.2L545.1,214.9Z" fill="#799cf8"/>
<path d="M539.5,217.5L539.4,219.7L539.2,221.8L539.0,224.0L538.6,226.2L538.1,228.5L537.4,230.7L536.6,232.9L535.6,235.2L534.5,237.4L533.1,239.6L531.6,241.8L529.9,244.0L528.0,246.3L525.9,248.5L523.5,250.7L520.8,252.7L517.8,254.2L514.6,255.0L511.4,254.5L508.4,252.9L505.8,250.5L503.6,247.6L502.0,244.6L500.6,241.7L499.6,239.0L498.7,236.4L498.1,234.0L497.5,231.8L497.1,229.7L496.8,227.8L496.6,225.9L496.5,224.1L496.4,222.4L496.3,220.7L496.3,219.1L496.3,217.5L496.4,215.9L496.5,214.3L496.6,212.7L496.8,211.0L497.0,209.3L497.3,207.5L497.5,205.5L497.8,203.4L498.2,201.1L498.7,198.6L499.4,195.9L500.4,192.9L501.7,189.9L503.5,186.9L505.7,184.2L508.3,181.9L511.4,180.4L514.6,180.0L517.8,180.7L520.8,182.1L523.6,183.9L526.1,186.0L528.3,188.2L530.1,190.6L531.7,193.0L533.1,195.4L534.3,197.8L535.3,200.2L536.1,202.4L536.9,204.6L537.6,206.8L538.2,208.9L538.6,211.1L539.0,213.2L539.3,215.3Z" fill="#8db0fe"/>
<path d="M535.9,217.5L535.7,219.4L535.5,221.3L535.1,223.2L534.6,225.0L534.0,226.9L533.3,228.7L532.5,230.5L531.6,232.3L530.6,234.2L529.4,236.0L528.2,237.9L526.9,240.0L525.4,242.1L523.6,244.2L521.7,246.4L519.4,248.5L516.8,250.2L513.9,251.1L511.0,250.4L508.4,248.6L506.2,246.2L504.4,243.5L503.0,240.8L501.9,238.2L501.1,235.8L500.4,233.6L499.8,231.6L499.4,229.7L499.1,227.9L498.8,226.2L498.7,224.6L498.5,223.1L498.5,221.6L498.4,220.2L498.4,218.9L498.3,217.5L498.4,216.1L498.4,214.8L498.5,213.4L498.6,211.9L498.7,210.4L498.9,208.8L499.1,207.2L499.4,205.3L499.7,203.3L500.2,201.2L500.9,198.9L501.7,196.4L502.9,193.9L504.4,191.4L506.2,188.9L508.5,186.8L511.1,185.3L513.9,184.7L516.7,185.5L519.3,186.9L521.6,188.7L523.7,190.6L525.5,192.6L527.1,194.7L528.5,196.7L529.6,198.7L530.7,200.7L531.6,202.7L532.4,204.5L533.2,206.4L533.9,208.2L534.5,210.0L535.0,211.8L535.5,213.7L535.8,215.6Z" fill="#a1c0ff"/>
<path d="M532.1,217.5L531.8,219.1L531.4,220.7L530.9,222.3L530.4,223.8L529.9,225.4L529.4,227.0L528.8,228.6L528.1,230.2L527.4,231.9L526.5,233.5L525.4,235.2L524.2,236.9L522.9,238.6L521.3,240.4L519.6,242.2L517.7,243.9L515.4,245.5L513.0,246.5L510.5,245.8L508.3,244.1L506.5,241.8L505.0,239.4L503.9,237.0L503.1,234.7L502.4,232.6L501.9,230.7L501.5,229.0L501.2,227.4L500.9,226.0L500.7,224.6L500.5,223.3L500.3,222.1L500.2,220.9L500.1,219.8L500.0,218.6L499.9,217.5L499.8,216.3L499.8,215.2L499.9,214.0L500.0,212.8L500.1,211.5L500.4,210.2L500.7,208.9L501.0,207.4L501.4,205.9L501.9,204.2L502.4,202.4L503.1,200.4L504.0,198.2L505.1,195.8L506.5,193.4L508.4,191.2L510.6,189.6L513.0,188.9L515.4,189.9L517.6,191.4L519.5,193.1L521.3,194.8L522.8,196.5L524.2,198.2L525.4,199.8L526.5,201.4L527.4,203.1L528.3,204.7L529.1,206.2L529.8,207.8L530.4,209.4L530.9,211.0L531.4,212.6L531.8,214.2L532.0,215.8Z" fill="#b3cdfb"/>
<path d="M529.3,217.5L529.1,219.0L528.7,220.5L528.2,221.9L527.7,223.3L527.1,224.6L526.5,226.0L525.8,227.3L525.1,228.6L524.3,230.0L523.4,231.4L522.5,232.7L521.4,234.1L520.2,235.5L518.8,236.8L517.3,238.1L515.7,239.4L513.8,240.5L511.8,241.2L509.8,240.6L508.0,239.1L506.5,237.2L505.4,235.2L504.5,233.2L503.8,231.3L503.4,229.6L503.0,228.0L502.8,226.5L502.6,225.2L502.4,224.1L502.3,223.0L502.1,222.0L502.0,221.1L501.9,220.2L501.8,219.3L501.8,218.4L501.7,217.5L501.7,216.6L501.8,215.7L501.8,214.8L501.9,213.9L501.9,212.9L502.1,211.9L502.2,210.8L502.4,209.6L502.7,208.4L503.0,207.0L503.4,205.5L503.9,203.9L504.6,202.1L505.5,200.1L506.6,198.0L508.0,196.0L509.8,194.4L511.8,193.8L513.8,194.5L515.6,195.7L517.3,197.1L518.7,198.4L520.1,199.8L521.3,201.1L522.4,202.4L523.4,203.6L524.4,204.9L525.3,206.2L526.1,207.5L526.8,208.8L527.4,210.2L527.9,211.6L528.4,213.1L528.8,214.5L529.1,216.0Z" fill="#c5d6f2"/>
<path d="M518.0,217.5L518.0,218.3L517.8,219.0L517.7,219.8L517.5,220.5L517.2,221.2L517.0,222.0L516.8,222.8L516.5,223.6L516.2,224.5L515.9,225.5L515.5,226.5L515.0,227.5L514.4,228.7L513.7,229.9L512.9,231.1L511.8,232.4L510.6,233.5L509.2,234.2L507.8,233.4L506.7,231.8L505.8,230.0L505.3,228.3L504.9,226.8L504.6,225.5L504.4,224.4L504.2,223.5L504.1,222.6L504.0,221.9L503.9,221.2L503.8,220.6L503.7,220.1L503.7,219.5L503.6,219.0L503.6,218.5L503.6,218.0L503.6,217.5L503.6,217.0L503.6,216.5L503.6,216.0L503.6,215.5L503.6,214.9L503.7,214.3L503.7,213.7L503.8,213.0L504.0,212.3L504.1,211.4L504.3,210.5L504.6,209.5L504.9,208.2L505.3,206.8L505.9,205.2L506.7,203.5L507.8,201.9L509.2,201.2L510.6,201.8L511.8,202.9L512.8,204.1L513.7,205.2L514.4,206.4L515.0,207.4L515.5,208.4L516.0,209.4L516.4,210.3L516.7,211.2L516.9,212.1L517.1,212.9L517.3,213.7L517.5,214.5L517.7,215.2L517.8,216.0L518.0,216.7Z" fill="#d5dbe5"/>
<path d="M512.5,217.5L512.5,217.9L512.5,218.3L512.4,218.7L512.4,219.1L512.3,219.5L512.2,219.9L512.1,220.4L512.0,220.8L511.8,221.3L511.7,221.9L511.5,222.5L511.2,223.1L511.0,223.9L510.6,224.7L510.2,225.6L509.6,226.5L508.9,227.4L508.0,228.0L507.1,227.3L506.5,226.1L506.0,224.8L505.7,223.7L505.5,222.8L505.4,222.0L505.3,221.3L505.2,220.8L505.2,220.3L505.1,219.9L505.1,219.5L505.0,219.2L505.0,218.9L505.0,218.6L505.0,218.3L505.0,218.0L505.0,217.8L505.0,217.5L505.0,217.2L505.0,217.0L505.0,216.7L505.1,216.4L505.1,216.1L505.1,215.8L505.1,215.5L505.1,215.1L505.2,214.7L505.2,214.2L505.3,213.6L505.4,213.0L505.5,212.2L505.7,211.3L506.0,210.2L506.5,208.9L507.1,207.6L508.0,207.0L508.9,207.5L509.6,208.4L510.2,209.4L510.6,210.3L511.0,211.1L511.3,211.9L511.5,212.5L511.7,213.1L511.8,213.7L512.0,214.2L512.1,214.7L512.1,215.1L512.2,215.5L512.3,215.9L512.3,216.3L512.4,216.7L512.4,217.1Z" fill="#e4d9d2"/>
<circle cx="521.5" cy="60.5" r="1.1" fill="#4358cb"/>
<circle cx="521.5" cy="71.5" r="1.1" fill="#4358cb"/>
<circle cx="521.5" cy="153.5" r="1.1" fill="#4358cb"/>
<circle cx="521.5" cy="164.5" r="1.1" fill="#4358cb"/>
<path d="M552.3,113.1L551.7,116.6L550.5,119.9L548.8,123.0L546.8,125.8L544.6,128.4L542.2,130.6L539.7,132.6L537.2,134.4L534.7,135.9L532.2,137.3L529.7,138.5L527.2,139.6L524.7,140.5L522.1,141.2L519.6,141.8L517.0,142.2L514.5,142.4L511.9,142.5L509.3,142.3L506.8,141.9L504.3,141.3L501.9,140.5L499.7,139.4L497.5,138.0L495.6,136.4L493.9,134.6L492.4,132.7L491.1,130.6L490.1,128.4L489.2,126.3L488.4,124.1L487.8,121.9L487.3,119.7L487.0,117.5L486.7,115.3L486.7,113.1L486.8,110.9L487.1,108.8L487.5,106.6L488.0,104.4L488.7,102.3L489.4,100.2L490.4,98.1L491.5,96.0L492.7,94.0L494.2,92.1L495.9,90.3L497.7,88.6L499.7,87.0L501.9,85.7L504.2,84.5L506.7,83.6L509.3,83.0L511.9,82.7L514.5,82.9L517.1,83.4L519.7,84.1L522.2,84.9L524.6,85.9L527.0,87.0L529.4,88.2L531.8,89.4L534.3,90.8L536.8,92.3L539.3,93.9L541.8,95.9L544.2,98.1L546.5,100.5L548.6,103.3L550.3,106.4L551.6,109.7Z" fill="#6687ed"/>
<path d="M548.3,113.1L547.6,116.3L546.3,119.2L544.6,121.9L542.6,124.3L540.5,126.5L538.4,128.5L536.3,130.3L534.3,131.9L532.2,133.4L530.1,134.9L528.0,136.1L525.8,137.2L523.6,138.1L521.3,138.9L518.9,139.4L516.6,139.8L514.2,140.0L511.9,140.1L509.6,139.9L507.2,139.6L505.0,139.0L502.8,138.1L500.8,137.0L498.9,135.7L497.2,134.2L495.6,132.5L494.2,130.8L493.0,129.0L491.9,127.1L491.0,125.2L490.2,123.3L489.5,121.3L489.0,119.3L488.6,117.2L488.4,115.2L488.3,113.1L488.3,111.1L488.4,109.0L488.6,106.9L489.0,104.8L489.6,102.7L490.3,100.7L491.3,98.7L492.5,96.8L493.9,95.1L495.4,93.5L497.1,92.0L498.9,90.6L500.8,89.3L502.8,88.2L504.9,87.2L507.2,86.4L509.5,85.8L511.9,85.6L514.3,85.8L516.7,86.1L519.0,86.7L521.3,87.4L523.6,88.1L525.8,89.0L528.1,90.0L530.4,91.1L532.7,92.3L535.0,93.8L537.2,95.4L539.4,97.3L541.5,99.3L543.4,101.7L545.2,104.2L546.7,107.0L547.8,110.0Z" fill="#799cf8"/>
<path d="M544.8,113.1L544.3,116.0L543.3,118.7L542.1,121.2L540.6,123.6L538.9,125.7L537.1,127.7L535.1,129.4L533.1,130.9L531.0,132.2L528.9,133.3L526.7,134.3L524.6,135.1L522.5,135.9L520.4,136.5L518.3,137.0L516.2,137.4L514.0,137.7L511.9,137.9L509.7,137.8L507.6,137.5L505.5,136.9L503.5,136.2L501.6,135.2L499.8,134.1L498.1,132.8L496.6,131.3L495.3,129.7L494.2,128.0L493.2,126.2L492.4,124.4L491.7,122.5L491.2,120.7L490.7,118.8L490.2,117.0L489.9,115.1L489.7,113.1L489.6,111.2L489.7,109.2L490.0,107.3L490.5,105.4L491.2,103.5L492.0,101.6L492.9,99.8L494.0,98.1L495.2,96.4L496.5,94.8L498.0,93.3L499.6,91.9L501.4,90.7L503.4,89.7L505.4,89.0L507.5,88.5L509.7,88.2L511.9,88.1L514.1,88.2L516.2,88.5L518.4,88.9L520.5,89.4L522.7,90.0L524.8,90.8L526.9,91.7L529.1,92.7L531.2,93.8L533.4,95.1L535.6,96.5L537.7,98.2L539.7,100.2L541.5,102.4L543.0,104.8L544.0,107.5L544.7,110.3Z" fill="#8db0fe"/>
<path d="M541.6,113.1L541.4,115.7L540.6,118.2L539.5,120.5L538.1,122.7L536.4,124.6L534.7,126.3L532.9,127.8L531.0,129.2L529.1,130.4L527.2,131.4L525.3,132.3L523.4,133.1L521.5,133.7L519.6,134.3L517.7,134.8L515.8,135.2L513.9,135.5L511.9,135.7L509.9,135.7L508.0,135.5L506.0,135.0L504.2,134.2L502.5,133.3L500.8,132.3L499.3,131.1L497.9,129.9L496.5,128.5L495.3,127.1L494.2,125.5L493.3,123.9L492.5,122.2L491.9,120.4L491.6,118.6L491.3,116.8L491.2,114.9L491.2,113.1L491.3,111.3L491.5,109.5L491.8,107.8L492.2,106.0L492.7,104.2L493.4,102.5L494.2,100.8L495.2,99.1L496.3,97.6L497.6,96.1L499.0,94.8L500.6,93.6L502.3,92.5L504.1,91.6L506.0,91.0L507.9,90.6L509.9,90.4L511.9,90.4L513.9,90.6L515.8,90.8L517.8,91.2L519.7,91.6L521.7,92.1L523.7,92.7L525.6,93.5L527.5,94.5L529.4,95.7L531.2,97.0L532.9,98.4L534.6,100.0L536.2,101.8L537.8,103.7L539.2,105.8L540.4,108.1L541.2,110.6Z" fill="#a1c0ff"/>
<path d="M538.7,113.1L538.4,115.5L537.8,117.7L536.8,119.8L535.5,121.7L534.1,123.5L532.6,125.1L531.0,126.5L529.3,127.8L527.6,128.9L525.9,129.8L524.2,130.7L522.4,131.4L520.7,132.0L519.0,132.5L517.2,133.0L515.5,133.4L513.7,133.6L511.9,133.8L510.1,133.7L508.3,133.4L506.6,133.0L504.9,132.4L503.3,131.6L501.7,130.7L500.3,129.7L498.9,128.7L497.6,127.5L496.4,126.2L495.3,124.7L494.5,123.2L493.8,121.6L493.3,119.9L493.0,118.2L492.8,116.5L492.7,114.8L492.6,113.1L492.7,111.5L492.9,109.8L493.1,108.1L493.5,106.5L494.1,104.8L494.7,103.2L495.6,101.7L496.5,100.2L497.6,98.8L498.8,97.5L500.1,96.3L501.5,95.2L503.1,94.3L504.7,93.5L506.5,92.9L508.3,92.5L510.1,92.3L511.9,92.3L513.7,92.4L515.5,92.6L517.3,92.9L519.1,93.3L520.9,93.8L522.7,94.5L524.4,95.3L526.0,96.3L527.7,97.4L529.2,98.6L530.8,99.9L532.3,101.4L533.8,102.9L535.2,104.6L536.5,106.5L537.6,108.6L538.3,110.8Z" fill="#b3cdfb"/>
<path d="M535.4,113.1L535.2,115.2L534.7,117.2L534.0,119.0L533.0,120.8L531.9,122.5L530.6,124.0L529.2,125.3L527.7,126.4L526.2,127.4L524.6,128.3L523.1,129.1L521.5,129.9L520.0,130.5L518.4,131.1L516.8,131.6L515.2,132.0L513.6,132.2L511.9,132.3L510.2,132.2L508.6,131.9L507.0,131.4L505.5,130.8L504.0,130.1L502.6,129.3L501.3,128.3L500.1,127.2L499.0,126.1L498.0,124.8L497.1,123.5L496.3,122.2L495.5,120.8L494.9,119.3L494.4,117.8L493.9,116.3L493.7,114.7L493.5,113.1L493.6,111.5L493.8,110.0L494.2,108.4L494.7,106.9L495.3,105.4L496.0,104.0L496.8,102.6L497.7,101.2L498.7,99.9L499.8,98.8L501.1,97.7L502.5,96.8L503.9,96.0L505.5,95.5L507.0,95.0L508.6,94.7L510.3,94.5L511.9,94.4L513.5,94.5L515.2,94.6L516.8,94.8L518.4,95.2L520.1,95.6L521.7,96.2L523.3,96.8L524.9,97.6L526.5,98.5L528.0,99.6L529.5,100.8L530.9,102.2L532.2,103.7L533.3,105.4L534.2,107.2L534.8,109.1L535.3,111.1Z" fill="#c5d6f2"/>
<path d="M533.8,113.1L533.6,115.0L533.3,116.9L532.6,118.7L531.8,120.4L530.7,121.9L529.5,123.3L528.1,124.5L526.7,125.5L525.2,126.4L523.7,127.2L522.2,127.8L520.7,128.4L519.3,129.0L517.8,129.4L516.4,129.8L514.9,130.1L513.4,130.3L511.9,130.4L510.4,130.3L508.9,130.1L507.5,129.7L506.1,129.2L504.7,128.5L503.4,127.8L502.2,127.0L501.0,126.1L500.0,125.1L499.0,123.9L498.2,122.7L497.5,121.5L496.9,120.1L496.5,118.8L496.1,117.4L495.9,116.0L495.7,114.6L495.7,113.1L495.7,111.7L495.9,110.3L496.2,108.9L496.5,107.6L497.0,106.2L497.6,104.9L498.2,103.6L499.0,102.3L499.9,101.1L500.9,100.0L502.0,99.0L503.2,98.1L504.6,97.4L506.0,96.9L507.4,96.5L508.9,96.3L510.4,96.1L511.9,96.1L513.4,96.1L514.9,96.2L516.4,96.4L517.9,96.6L519.4,97.0L520.9,97.5L522.4,98.2L523.8,98.9L525.3,99.8L526.7,100.7L528.0,101.8L529.4,103.1L530.6,104.4L531.7,105.9L532.6,107.6L533.2,109.4L533.6,111.2Z" fill="#d5dbe5"/>
<path d="M531.6,113.1L531.4,114.8L531.0,116.5L530.4,118.1L529.6,119.6L528.7,121.0L527.6,122.2L526.5,123.3L525.2,124.3L523.9,125.1L522.5,125.8L521.2,126.4L519.8,126.8L518.5,127.2L517.1,127.5L515.8,127.8L514.5,128.1L513.2,128.3L511.9,128.5L510.6,128.5L509.2,128.4L507.9,128.0L506.6,127.6L505.5,127.0L504.3,126.2L503.3,125.4L502.3,124.5L501.4,123.6L500.6,122.6L499.9,121.5L499.3,120.4L498.8,119.3L498.3,118.1L498.0,116.9L497.8,115.6L497.7,114.4L497.6,113.1L497.6,111.9L497.7,110.6L498.0,109.4L498.3,108.2L498.7,107.0L499.2,105.8L499.8,104.7L500.5,103.6L501.3,102.6L502.2,101.6L503.1,100.6L504.2,99.8L505.3,99.1L506.6,98.5L507.9,98.1L509.2,97.8L510.5,97.7L511.9,97.8L513.2,97.9L514.6,98.1L515.9,98.3L517.2,98.5L518.6,98.8L520.0,99.2L521.3,99.7L522.7,100.3L524.0,101.0L525.3,101.9L526.6,102.9L527.7,104.0L528.8,105.3L529.8,106.6L530.5,108.1L531.1,109.7L531.5,111.4Z" fill="#e4d9d2"/>
<path d="M529.6,113.1L529.6,114.7L529.3,116.2L528.9,117.7L528.3,119.1L527.5,120.4L526.5,121.6L525.4,122.6L524.2,123.5L523.0,124.2L521.7,124.8L520.4,125.3L519.1,125.7L517.9,126.1L516.7,126.4L515.5,126.6L514.3,126.8L513.1,126.9L511.9,126.9L510.7,126.9L509.5,126.7L508.4,126.3L507.3,125.9L506.2,125.4L505.2,124.8L504.2,124.1L503.3,123.4L502.5,122.6L501.7,121.7L501.0,120.7L500.5,119.7L500.0,118.7L499.6,117.6L499.3,116.5L499.0,115.4L498.9,114.3L498.9,113.1L499.0,112.0L499.1,110.9L499.4,109.8L499.8,108.7L500.2,107.7L500.7,106.7L501.3,105.7L501.8,104.7L502.5,103.7L503.2,102.8L504.1,102.0L505.0,101.2L506.0,100.5L507.1,100.0L508.3,99.6L509.5,99.3L510.7,99.1L511.9,99.1L513.1,99.1L514.4,99.2L515.6,99.3L516.9,99.5L518.1,99.8L519.3,100.2L520.6,100.8L521.8,101.4L522.9,102.1L524.1,102.9L525.2,103.8L526.2,104.9L527.2,106.0L528.0,107.3L528.7,108.6L529.2,110.1L529.5,111.6Z" fill="#efcebd"/>
<path d="M528.5,113.1L528.3,114.6L528.0,116.0L527.5,117.3L526.8,118.6L526.0,119.7L525.0,120.7L524.0,121.6L522.9,122.4L521.8,123.1L520.7,123.7L519.6,124.2L518.5,124.7L517.4,125.0L516.3,125.3L515.2,125.5L514.1,125.6L513.0,125.7L511.9,125.7L510.8,125.6L509.7,125.5L508.6,125.3L507.6,125.0L506.6,124.6L505.6,124.1L504.7,123.5L503.8,122.8L503.1,122.0L502.4,121.1L501.9,120.2L501.4,119.2L501.0,118.2L500.7,117.2L500.4,116.2L500.2,115.2L500.1,114.2L500.1,113.1L500.1,112.1L500.2,111.1L500.4,110.1L500.7,109.0L501.0,108.0L501.4,107.1L501.8,106.1L502.4,105.2L503.1,104.3L503.8,103.5L504.7,102.8L505.6,102.2L506.5,101.6L507.5,101.1L508.6,100.7L509.7,100.4L510.8,100.2L511.9,100.1L513.0,100.1L514.2,100.3L515.3,100.5L516.4,100.8L517.5,101.1L518.6,101.6L519.7,102.1L520.8,102.6L521.9,103.2L523.0,103.8L524.1,104.6L525.1,105.5L526.0,106.5L526.9,107.7L527.5,108.9L528.0,110.3L528.3,111.7Z" fill="#f5c0a7"/>
<path d="M526.8,113.1L526.7,114.4L526.4,115.7L526.0,116.9L525.4,118.1L524.8,119.1L524.0,120.1L523.1,121.0L522.1,121.7L521.1,122.3L520.0,122.8L518.9,123.2L517.9,123.5L516.9,123.8L515.9,124.0L514.9,124.2L513.9,124.4L512.9,124.5L511.9,124.5L510.9,124.5L509.9,124.4L508.9,124.2L508.0,123.9L507.1,123.5L506.2,123.0L505.4,122.5L504.6,121.8L503.9,121.1L503.3,120.4L502.8,119.5L502.3,118.7L501.9,117.8L501.6,116.9L501.4,116.0L501.2,115.0L501.1,114.1L501.0,113.1L501.0,112.2L501.1,111.2L501.4,110.3L501.6,109.4L502.0,108.5L502.4,107.7L502.9,106.8L503.4,106.0L504.0,105.2L504.6,104.5L505.3,103.7L506.1,103.1L506.9,102.5L507.9,102.0L508.8,101.7L509.8,101.5L510.9,101.4L511.9,101.4L512.9,101.4L513.9,101.5L515.0,101.7L516.0,101.9L517.0,102.2L518.0,102.6L519.0,103.0L520.0,103.5L521.0,104.0L522.0,104.7L522.9,105.4L523.9,106.2L524.7,107.2L525.4,108.2L526.0,109.4L526.5,110.6L526.7,111.8Z" fill="#f7af91"/>
<path d="M525.2,113.1L525.1,114.3L524.8,115.4L524.4,116.5L523.9,117.5L523.3,118.4L522.6,119.3L521.8,120.1L521.0,120.8L520.2,121.4L519.2,121.9L518.3,122.3L517.4,122.6L516.5,122.9L515.5,123.1L514.6,123.3L513.7,123.4L512.8,123.5L511.9,123.5L511.0,123.4L510.1,123.3L509.2,123.0L508.4,122.7L507.6,122.3L506.8,121.9L506.1,121.4L505.5,120.8L504.9,120.2L504.3,119.5L503.8,118.8L503.4,118.0L503.1,117.2L502.8,116.5L502.5,115.6L502.3,114.8L502.2,114.0L502.1,113.1L502.1,112.3L502.1,111.4L502.3,110.6L502.5,109.7L502.9,108.9L503.3,108.2L503.8,107.5L504.3,106.8L504.9,106.1L505.5,105.5L506.2,104.9L506.9,104.4L507.6,104.0L508.4,103.6L509.3,103.3L510.1,103.1L511.0,102.9L511.9,102.9L512.8,102.9L513.7,102.9L514.6,103.0L515.5,103.2L516.4,103.4L517.4,103.7L518.3,104.0L519.2,104.4L520.1,104.9L521.0,105.5L521.9,106.1L522.7,106.9L523.5,107.7L524.2,108.7L524.7,109.7L525.1,110.8L525.2,112.0Z" fill="#f4987a"/>
<path d="M523.6,113.1L523.6,114.2L523.4,115.2L523.1,116.1L522.6,117.0L522.0,117.8L521.3,118.6L520.5,119.2L519.7,119.7L518.9,120.1L518.1,120.5L517.3,120.8L516.5,121.1L515.7,121.3L514.9,121.5L514.2,121.7L513.4,121.8L512.7,121.8L511.9,121.9L511.1,121.9L510.4,121.8L509.6,121.7L508.9,121.5L508.2,121.2L507.5,120.8L506.9,120.3L506.3,119.8L505.8,119.2L505.3,118.6L504.9,118.0L504.6,117.4L504.2,116.7L504.0,116.0L503.7,115.3L503.6,114.6L503.5,113.9L503.5,113.1L503.5,112.4L503.7,111.7L503.8,111.0L504.0,110.3L504.3,109.6L504.6,108.9L504.9,108.3L505.3,107.6L505.8,107.0L506.3,106.5L506.9,106.0L507.5,105.5L508.2,105.1L508.9,104.8L509.6,104.6L510.4,104.4L511.1,104.3L511.9,104.3L512.7,104.4L513.4,104.5L514.2,104.6L514.9,104.8L515.7,105.0L516.5,105.2L517.3,105.5L518.1,105.8L518.9,106.1L519.7,106.6L520.5,107.1L521.2,107.8L521.9,108.5L522.5,109.3L522.9,110.2L523.3,111.1L523.5,112.1Z" fill="#ec8165"/>
<path d="M521.6,113.1L521.5,114.0L521.4,114.8L521.0,115.6L520.6,116.3L520.1,117.0L519.5,117.5L518.9,118.0L518.3,118.5L517.6,118.9L517.0,119.2L516.4,119.5L515.8,119.8L515.1,120.1L514.5,120.2L513.8,120.4L513.2,120.5L512.5,120.5L511.9,120.5L511.3,120.4L510.6,120.3L510.0,120.1L509.4,119.9L508.9,119.7L508.3,119.3L507.8,119.0L507.3,118.6L506.9,118.1L506.5,117.7L506.1,117.2L505.8,116.7L505.5,116.1L505.3,115.6L505.1,115.0L504.9,114.4L504.9,113.8L504.8,113.1L504.9,112.5L505.0,111.9L505.1,111.3L505.3,110.7L505.5,110.2L505.8,109.6L506.1,109.1L506.4,108.6L506.9,108.1L507.3,107.7L507.8,107.4L508.4,107.1L509.0,106.8L509.5,106.6L510.1,106.5L510.7,106.3L511.3,106.2L511.9,106.2L512.5,106.2L513.1,106.2L513.7,106.2L514.4,106.3L515.0,106.5L515.7,106.6L516.3,106.8L517.0,107.1L517.7,107.4L518.3,107.8L519.0,108.2L519.6,108.7L520.1,109.3L520.6,110.0L521.0,110.7L521.3,111.5L521.5,112.3Z" fill="#e16751"/>
<path d="M519.6,113.1L519.5,113.8L519.3,114.4L519.1,115.1L518.7,115.6L518.3,116.1L517.9,116.6L517.4,117.0L516.9,117.4L516.4,117.6L515.9,117.9L515.4,118.1L514.8,118.2L514.3,118.4L513.8,118.5L513.4,118.6L512.9,118.7L512.4,118.8L511.9,118.8L511.4,118.8L510.9,118.8L510.4,118.7L509.9,118.5L509.5,118.3L509.1,118.0L508.7,117.7L508.3,117.4L508.0,117.1L507.7,116.7L507.4,116.3L507.1,115.9L506.9,115.5L506.7,115.0L506.6,114.6L506.5,114.1L506.5,113.6L506.4,113.1L506.4,112.7L506.5,112.2L506.6,111.7L506.8,111.3L506.9,110.8L507.2,110.4L507.5,110.0L507.8,109.7L508.1,109.3L508.4,109.0L508.8,108.7L509.2,108.5L509.6,108.2L510.1,108.1L510.5,108.0L511.0,107.9L511.4,107.9L511.9,107.9L512.3,108.0L512.8,108.0L513.3,108.0L513.7,108.1L514.2,108.2L514.7,108.3L515.2,108.4L515.7,108.6L516.2,108.8L516.8,109.1L517.3,109.4L517.8,109.8L518.2,110.2L518.7,110.7L519.0,111.2L519.3,111.8L519.5,112.5Z" fill="#d1493f"/>
<path d="M516.5,113.1L516.5,113.5L516.4,113.9L516.3,114.3L516.2,114.7L516.0,115.0L515.7,115.4L515.5,115.6L515.2,115.9L514.9,116.1L514.5,116.3L514.2,116.4L513.9,116.6L513.5,116.7L513.2,116.7L512.9,116.8L512.5,116.8L512.2,116.8L511.9,116.8L511.6,116.8L511.3,116.8L510.9,116.7L510.6,116.6L510.3,116.5L510.0,116.3L509.8,116.2L509.5,115.9L509.3,115.7L509.1,115.5L509.0,115.2L508.8,114.9L508.7,114.6L508.6,114.4L508.5,114.1L508.4,113.8L508.3,113.4L508.3,113.1L508.4,112.8L508.4,112.5L508.5,112.2L508.6,112.0L508.8,111.7L509.0,111.4L509.1,111.2L509.3,111.0L509.5,110.8L509.8,110.6L510.0,110.4L510.2,110.3L510.5,110.1L510.8,110.0L511.0,109.9L511.3,109.9L511.6,109.8L511.9,109.8L512.2,109.8L512.5,109.8L512.8,109.9L513.1,109.9L513.4,110.0L513.6,110.1L513.9,110.2L514.3,110.3L514.6,110.5L514.9,110.6L515.2,110.8L515.5,111.1L515.8,111.3L516.0,111.6L516.2,112.0L516.4,112.3L516.5,112.7Z" fill="#be242e"/>
</g>
<g clip-path="url(#c3)">
<rect x="87" y="323.5" width="232" height="205.5" fill="#4358cb"/>
<path d="M189.2,324.1L190.1,328.2L191.8,331.0L194.5,332.2L197.1,334.2L199.7,336.8L202.3,339.4L205.0,342.1L208.5,344.7L212.8,347.3L217.2,350.2L221.6,353.2L226.0,355.9L230.3,358.1L234.7,360.1L239.1,361.8L243.5,363.6L247.8,365.3L251.8,367.1L255.2,368.8L258.1,369.9L260.3,370.3L261.6,369.4L262.1,367.3L263.6,365.8L266.3,364.8L269.6,364.2L273.4,363.7L276.5,362.6L278.7,360.9L280.7,358.2L282.4,354.8L283.7,350.8L284.6,346.5L285.4,342.1L286.4,337.7L287.0,333.8L287.5,330.2L287.0,326.9L285.7,323.6L260.9,322.0L212.9,322.0Z" fill="#5470de"/>
<path d="M189.2,528.4L190.1,524.3L191.8,521.6L194.5,520.2L197.1,518.3L199.7,515.7L202.3,513.1L205.0,510.4L208.5,507.8L212.8,505.2L217.2,502.3L221.6,499.2L226.0,496.6L230.3,494.4L234.7,492.4L239.1,490.7L243.5,488.9L247.8,487.2L251.8,485.4L255.2,483.7L258.1,482.6L260.3,482.2L261.6,483.1L262.1,485.2L263.6,486.8L266.3,487.7L269.6,488.3L273.4,488.8L276.5,489.9L278.7,491.6L280.7,494.2L282.4,497.8L283.7,501.7L284.6,506.0L285.4,510.4L286.4,514.8L287.0,518.8L287.5,522.2L287.0,525.6L285.7,528.9L260.9,530.5L212.9,530.5Z" fill="#5470de"/>
<path d="M203.5,323.9L204.8,327.5L206.7,330.3L209.3,332.0L212.1,333.5L215.3,334.9L218.1,336.8L220.7,339.5L223.8,342.1L227.2,344.7L230.3,346.9L233.0,348.6L236.1,349.7L239.6,350.2L243.5,350.8L247.8,351.8L251.8,352.4L255.2,352.8L258.3,353.2L261.0,353.7L262.7,352.8L263.6,350.6L264.7,348.2L266.0,345.6L267.8,343.4L269.9,341.7L270.8,339.5L270.4,336.8L270.8,333.8L272.2,330.2L272.8,326.9L272.8,323.6L255.3,322.0L220.3,322.0Z" fill="#6687ed"/>
<path d="M203.5,528.6L204.8,525.0L206.7,522.2L209.3,520.5L212.1,519.0L215.3,517.6L218.1,515.7L220.7,513.0L223.8,510.4L227.2,507.8L230.3,505.6L233.0,503.9L236.1,502.8L239.6,502.3L243.5,501.7L247.8,500.8L251.8,500.1L255.2,499.7L258.3,499.3L261.0,498.8L262.7,499.7L263.6,501.9L264.7,504.3L266.0,506.9L267.8,509.1L269.9,510.8L270.8,513.0L270.4,515.7L270.8,518.8L272.2,522.2L272.8,525.6L272.8,528.9L255.3,530.5L220.3,530.5Z" fill="#6687ed"/>
<path d="M215.7,323.9L217.0,327.5L219.2,330.0L222.3,331.4L225.1,332.9L227.7,334.6L230.3,336.4L233.0,338.1L236.1,339.6L239.6,341.0L242.6,342.3L245.2,343.6L247.8,344.5L250.5,344.9L253.1,344.9L255.7,344.5L257.7,343.0L259.0,340.3L260.1,337.7L261.0,335.1L261.8,332.5L262.8,329.8L263.0,326.9L262.5,323.6L250.5,322.0L226.8,322.0Z" fill="#799cf8"/>
<path d="M215.7,528.6L217.0,525.0L219.2,522.5L222.3,521.1L225.1,519.6L227.7,517.9L230.3,516.1L233.0,514.4L236.1,512.9L239.6,511.5L242.6,510.2L245.2,508.9L247.8,508.0L250.5,507.6L253.1,507.6L255.7,508.0L257.7,509.5L259.0,512.2L260.1,514.8L261.0,517.4L261.8,520.0L262.8,522.7L263.0,525.6L262.5,528.9L250.5,530.5L226.8,530.5Z" fill="#799cf8"/>
<path d="M226.5,323.5L227.5,326.5L230.0,328.8L234.0,330.2L238.0,331.8L242.0,333.2L245.5,334.4L248.5,335.1L251.0,334.9L253.0,333.6L254.5,331.8L255.5,329.2L256.0,326.5L256.0,323.5L248.5,322.0L233.5,322.0Z" fill="#8db0fe"/>
<path d="M226.5,529.0L227.5,526.0L230.0,523.8L234.0,522.2L238.0,520.8L242.0,519.2L245.5,518.1L248.5,517.4L251.0,517.6L253.0,518.9L254.5,520.8L255.5,523.2L256.0,526.0L256.0,529.0L248.5,530.5L233.5,530.5Z" fill="#8db0fe"/>
<path d="M198.5,426.9L197.6,430.3L196.1,433.5L194.3,436.4L192.2,439.0L190.0,441.4L187.8,443.5L185.5,445.5L183.3,447.3L181.1,449.0L178.9,450.6L176.6,452.1L174.3,453.5L172.0,454.8L169.5,455.9L167.0,456.9L164.4,457.6L161.7,458.2L159.0,458.5L156.2,458.4L153.5,458.1L150.7,457.6L148.0,456.9L145.4,456.0L142.9,454.7L140.5,453.2L138.4,451.5L136.4,449.5L134.6,447.3L133.1,445.0L131.7,442.6L130.6,440.1L129.7,437.6L129.0,434.9L128.5,432.3L128.2,429.6L128.1,426.9L128.2,424.2L128.4,421.5L128.8,418.8L129.4,416.1L130.1,413.5L131.2,410.8L132.5,408.3L134.0,406.0L135.8,403.8L137.9,401.8L140.2,400.0L142.6,398.5L145.1,397.2L147.8,396.1L150.5,395.3L153.3,394.6L156.1,394.2L159.0,394.1L161.8,394.4L164.6,395.2L167.2,396.1L169.8,397.2L172.3,398.4L174.7,399.7L177.0,401.1L179.4,402.6L181.7,404.2L184.0,405.9L186.3,407.8L188.5,409.8L190.7,412.1L192.7,414.6L194.6,417.3L196.4,420.3L197.7,423.5Z" fill="#5470de"/>
<path d="M191.8,426.9L191.1,429.7L189.9,432.4L188.5,434.8L186.9,437.1L185.2,439.1L183.5,441.0L181.6,442.8L179.7,444.3L177.8,445.7L175.9,447.0L173.9,448.2L171.9,449.3L169.9,450.3L167.8,451.3L165.7,452.2L163.6,452.9L161.3,453.5L159.0,453.8L156.6,453.8L154.3,453.6L151.9,453.2L149.6,452.6L147.3,451.9L145.1,450.9L143.0,449.6L141.1,448.2L139.3,446.6L137.7,444.8L136.3,442.8L135.1,440.7L134.0,438.5L133.2,436.3L132.5,434.0L132.0,431.7L131.6,429.3L131.5,426.9L131.5,424.5L131.7,422.1L132.1,419.7L132.7,417.3L133.5,415.0L134.5,412.8L135.7,410.6L137.0,408.5L138.6,406.5L140.3,404.6L142.2,402.9L144.2,401.4L146.5,400.1L148.9,399.1L151.3,398.4L153.9,397.9L156.4,397.7L159.0,397.6L161.5,398.0L163.9,398.7L166.3,399.6L168.5,400.7L170.7,401.8L172.7,403.1L174.7,404.4L176.7,405.8L178.6,407.2L180.5,408.8L182.4,410.5L184.2,412.3L186.0,414.3L187.6,416.5L189.1,418.8L190.4,421.4L191.3,424.1Z" fill="#6687ed"/>
<path d="M187.7,426.9L187.1,429.4L186.1,431.7L184.9,433.8L183.6,435.8L182.1,437.7L180.6,439.4L179.0,440.9L177.3,442.3L175.6,443.6L173.9,444.7L172.2,445.8L170.4,446.8L168.7,447.7L166.9,448.6L165.0,449.4L163.1,450.1L161.0,450.6L159.0,450.9L156.9,450.9L154.8,450.7L152.7,450.4L150.6,449.9L148.6,449.2L146.6,448.3L144.8,447.2L143.0,445.9L141.4,444.5L140.0,442.8L138.7,441.1L137.6,439.2L136.7,437.3L135.9,435.3L135.3,433.2L134.8,431.2L134.5,429.0L134.4,426.9L134.4,424.7L134.6,422.6L135.0,420.5L135.6,418.4L136.3,416.3L137.1,414.3L138.1,412.3L139.3,410.4L140.7,408.6L142.2,406.9L143.9,405.3L145.7,404.0L147.7,402.8L149.9,401.9L152.1,401.3L154.4,400.8L156.7,400.6L159.0,400.5L161.2,400.9L163.4,401.6L165.5,402.4L167.5,403.4L169.4,404.5L171.3,405.6L173.0,406.8L174.7,408.1L176.4,409.4L178.1,410.8L179.7,412.4L181.3,414.0L182.8,415.8L184.2,417.7L185.4,419.8L186.4,422.1L187.3,424.4Z" fill="#799cf8"/>
<path d="M184.9,426.9L184.4,429.1L183.5,431.2L182.3,433.2L181.0,434.9L179.7,436.6L178.3,438.1L176.9,439.5L175.5,440.8L174.1,442.0L172.6,443.1L171.0,444.1L169.4,445.0L167.8,445.8L166.1,446.5L164.4,447.2L162.6,447.7L160.8,448.1L159.0,448.4L157.1,448.4L155.2,448.2L153.3,447.9L151.5,447.4L149.7,446.8L147.9,446.1L146.2,445.1L144.6,444.0L143.1,442.8L141.7,441.4L140.5,439.9L139.4,438.2L138.5,436.4L137.9,434.6L137.4,432.7L137.1,430.8L136.9,428.8L136.9,426.9L136.9,425.0L137.1,423.0L137.3,421.1L137.7,419.2L138.3,417.3L139.1,415.4L140.1,413.7L141.2,412.0L142.4,410.4L143.9,408.9L145.4,407.5L147.1,406.3L148.9,405.2L150.7,404.3L152.7,403.6L154.8,403.0L156.9,402.8L159.0,402.7L161.1,403.0L163.1,403.7L165.0,404.4L166.8,405.4L168.5,406.4L170.2,407.4L171.8,408.6L173.3,409.8L174.7,411.1L176.1,412.5L177.5,413.9L178.8,415.4L180.1,417.0L181.4,418.7L182.6,420.6L183.6,422.5L184.5,424.7Z" fill="#8db0fe"/>
<path d="M182.3,426.9L181.8,428.9L181.0,430.8L179.9,432.5L178.8,434.1L177.7,435.6L176.5,437.0L175.3,438.3L174.1,439.6L172.8,440.7L171.4,441.8L170.0,442.7L168.6,443.6L167.1,444.3L165.6,445.0L164.0,445.7L162.4,446.2L160.7,446.6L159.0,446.8L157.2,446.8L155.5,446.6L153.8,446.3L152.1,445.8L150.5,445.1L148.9,444.3L147.4,443.4L146.0,442.3L144.7,441.1L143.5,439.8L142.5,438.4L141.6,436.9L140.8,435.4L140.2,433.7L139.7,432.1L139.4,430.4L139.1,428.6L139.0,426.9L139.0,425.1L139.1,423.4L139.3,421.6L139.7,419.9L140.2,418.2L140.9,416.5L141.8,414.9L142.8,413.3L144.0,411.9L145.2,410.5L146.6,409.2L148.1,408.1L149.7,407.0L151.4,406.2L153.2,405.5L155.1,405.0L157.0,404.7L159.0,404.7L160.9,405.0L162.7,405.5L164.5,406.2L166.2,407.0L167.8,407.9L169.4,408.9L170.8,409.9L172.3,411.0L173.6,412.2L174.9,413.5L176.2,414.8L177.4,416.3L178.5,417.8L179.6,419.4L180.6,421.1L181.4,422.9L182.0,424.9Z" fill="#a1c0ff"/>
<path d="M180.3,426.9L180.1,428.7L179.6,430.5L178.8,432.2L177.9,433.8L176.8,435.2L175.7,436.5L174.5,437.8L173.3,438.9L172.0,439.9L170.7,440.9L169.4,441.7L168.0,442.5L166.6,443.2L165.1,443.8L163.6,444.2L162.1,444.6L160.5,444.9L159.0,445.0L157.4,445.0L155.8,444.8L154.2,444.6L152.7,444.1L151.2,443.6L149.7,442.9L148.4,442.0L147.1,441.1L145.9,440.0L144.8,438.8L143.8,437.5L142.9,436.2L142.2,434.7L141.7,433.2L141.3,431.6L141.1,430.0L141.0,428.5L141.0,426.9L141.1,425.3L141.2,423.8L141.4,422.2L141.6,420.6L142.0,419.0L142.6,417.4L143.2,415.9L144.1,414.4L145.1,413.0L146.2,411.7L147.5,410.5L148.9,409.4L150.4,408.5L152.0,407.7L153.7,407.1L155.4,406.7L157.2,406.4L159.0,406.4L160.7,406.5L162.5,406.9L164.2,407.5L165.8,408.1L167.4,408.9L168.8,409.8L170.3,410.8L171.6,411.8L172.9,413.0L174.1,414.2L175.2,415.5L176.2,416.9L177.2,418.4L178.1,419.9L178.9,421.6L179.6,423.3L180.1,425.1Z" fill="#b3cdfb"/>
<path d="M177.6,426.9L177.4,428.5L177.1,430.1L176.5,431.6L175.7,433.0L174.9,434.3L173.9,435.5L172.9,436.6L171.8,437.7L170.7,438.6L169.5,439.5L168.4,440.3L167.1,441.0L165.9,441.7L164.6,442.2L163.2,442.7L161.8,443.1L160.4,443.3L159.0,443.4L157.5,443.3L156.1,443.1L154.7,442.8L153.3,442.4L152.0,441.9L150.7,441.2L149.5,440.4L148.4,439.5L147.3,438.6L146.3,437.5L145.4,436.4L144.6,435.2L143.9,433.9L143.4,432.6L142.9,431.2L142.6,429.8L142.5,428.3L142.5,426.9L142.5,425.5L142.7,424.0L142.9,422.6L143.2,421.2L143.6,419.7L144.1,418.3L144.8,416.9L145.5,415.6L146.4,414.3L147.4,413.1L148.6,412.0L149.8,411.1L151.2,410.2L152.6,409.5L154.2,409.0L155.7,408.6L157.3,408.3L159.0,408.2L160.6,408.4L162.2,408.7L163.7,409.2L165.2,409.8L166.6,410.5L168.0,411.2L169.3,412.1L170.6,413.1L171.7,414.2L172.8,415.3L173.7,416.6L174.6,417.9L175.4,419.2L176.0,420.7L176.6,422.2L177.1,423.7L177.4,425.3Z" fill="#c5d6f2"/>
<path d="M175.3,426.9L175.1,428.3L174.7,429.7L174.1,431.0L173.5,432.2L172.9,433.4L172.1,434.5L171.3,435.5L170.4,436.5L169.4,437.3L168.4,438.1L167.3,438.9L166.2,439.5L165.1,440.1L163.9,440.5L162.7,441.0L161.5,441.3L160.2,441.5L159.0,441.6L157.7,441.5L156.4,441.3L155.2,441.1L153.9,440.7L152.7,440.3L151.6,439.7L150.5,439.0L149.4,438.3L148.5,437.4L147.6,436.4L146.8,435.4L146.2,434.3L145.6,433.1L145.2,431.9L144.8,430.7L144.5,429.4L144.3,428.2L144.2,426.9L144.2,425.6L144.3,424.3L144.5,423.0L144.8,421.7L145.2,420.5L145.7,419.3L146.4,418.1L147.1,416.9L147.9,415.8L148.8,414.8L149.8,413.9L150.9,413.0L152.1,412.3L153.4,411.6L154.8,411.2L156.1,410.8L157.5,410.6L159.0,410.5L160.4,410.6L161.8,410.9L163.1,411.3L164.4,411.9L165.7,412.5L166.9,413.2L168.0,414.0L169.0,414.9L170.0,415.8L171.0,416.8L171.8,417.9L172.7,419.0L173.4,420.2L174.0,421.4L174.6,422.7L175.0,424.1L175.2,425.5Z" fill="#d5dbe5"/>
<path d="M173.3,426.9L173.2,428.1L172.8,429.3L172.3,430.5L171.7,431.5L171.1,432.5L170.4,433.5L169.6,434.4L168.8,435.2L168.0,436.0L167.2,436.7L166.3,437.3L165.3,437.9L164.4,438.4L163.3,438.9L162.3,439.3L161.2,439.6L160.1,439.8L159.0,439.9L157.8,439.8L156.7,439.7L155.6,439.4L154.5,439.1L153.5,438.7L152.5,438.2L151.5,437.6L150.6,436.9L149.7,436.1L149.0,435.3L148.3,434.4L147.7,433.4L147.2,432.4L146.8,431.3L146.5,430.2L146.3,429.1L146.2,428.0L146.2,426.9L146.2,425.8L146.2,424.6L146.3,423.5L146.6,422.4L146.9,421.3L147.3,420.2L147.9,419.1L148.5,418.1L149.3,417.2L150.1,416.3L151.0,415.6L152.0,414.9L153.1,414.3L154.2,413.8L155.3,413.4L156.5,413.1L157.7,413.0L159.0,412.9L160.2,413.0L161.4,413.3L162.5,413.6L163.7,414.0L164.7,414.5L165.8,415.1L166.7,415.8L167.7,416.5L168.5,417.3L169.3,418.2L170.1,419.1L170.8,420.1L171.4,421.1L172.0,422.1L172.5,423.3L173.0,424.4L173.2,425.6Z" fill="#e4d9d2"/>
<path d="M171.7,426.9L171.7,428.0L171.5,429.1L171.2,430.2L170.8,431.2L170.2,432.2L169.6,433.0L168.9,433.9L168.2,434.6L167.4,435.3L166.5,435.9L165.7,436.5L164.8,437.0L163.8,437.4L162.9,437.7L161.9,437.9L160.9,438.1L160.0,438.2L159.0,438.2L158.0,438.2L157.0,438.1L156.0,437.9L155.0,437.7L154.1,437.4L153.2,436.9L152.3,436.4L151.5,435.8L150.7,435.1L150.0,434.4L149.4,433.6L148.9,432.7L148.4,431.8L148.1,430.9L147.8,429.9L147.6,428.9L147.6,427.9L147.6,426.9L147.6,425.9L147.7,424.9L147.9,423.9L148.1,422.9L148.4,422.0L148.7,421.0L149.2,420.1L149.7,419.2L150.4,418.3L151.1,417.5L151.9,416.9L152.8,416.3L153.8,415.7L154.8,415.3L155.8,415.0L156.8,414.7L157.9,414.6L159.0,414.6L160.0,414.6L161.1,414.7L162.2,415.0L163.2,415.3L164.2,415.7L165.1,416.2L166.1,416.8L166.9,417.4L167.7,418.1L168.5,418.9L169.2,419.7L169.8,420.7L170.3,421.6L170.8,422.6L171.1,423.6L171.4,424.7L171.6,425.8Z" fill="#efcebd"/>
<path d="M170.2,426.9L170.1,427.9L170.0,428.8L169.7,429.8L169.3,430.6L168.8,431.5L168.3,432.3L167.7,433.0L167.1,433.7L166.4,434.3L165.6,434.8L164.9,435.3L164.1,435.7L163.2,436.1L162.4,436.3L161.5,436.5L160.7,436.7L159.8,436.8L159.0,436.8L158.1,436.8L157.2,436.7L156.4,436.6L155.5,436.4L154.7,436.1L153.9,435.7L153.1,435.3L152.4,434.8L151.7,434.2L151.0,433.5L150.5,432.8L150.0,432.1L149.6,431.2L149.3,430.4L149.1,429.5L149.0,428.7L148.9,427.8L148.9,426.9L148.9,426.0L149.0,425.1L149.1,424.2L149.2,423.4L149.5,422.5L149.9,421.6L150.3,420.8L150.8,420.0L151.4,419.3L152.0,418.6L152.8,418.0L153.5,417.5L154.4,417.0L155.2,416.6L156.1,416.3L157.1,416.1L158.0,416.0L159.0,416.0L159.9,416.0L160.9,416.2L161.8,416.4L162.7,416.7L163.6,417.0L164.4,417.4L165.2,418.0L166.0,418.5L166.7,419.2L167.3,419.9L167.9,420.6L168.5,421.4L169.0,422.2L169.4,423.1L169.8,424.0L170.0,424.9L170.2,425.9Z" fill="#f5c0a7"/>
<path d="M168.5,426.9L168.5,427.7L168.4,428.6L168.2,429.4L167.9,430.1L167.6,430.9L167.2,431.6L166.7,432.3L166.1,432.9L165.5,433.4L164.9,433.9L164.2,434.3L163.5,434.7L162.7,435.0L162.0,435.2L161.2,435.4L160.5,435.5L159.7,435.6L159.0,435.7L158.2,435.7L157.4,435.6L156.7,435.4L155.9,435.2L155.2,434.9L154.5,434.6L153.8,434.2L153.2,433.8L152.6,433.3L152.0,432.7L151.5,432.1L151.1,431.5L150.7,430.8L150.4,430.0L150.2,429.3L150.0,428.5L149.9,427.7L149.9,426.9L149.9,426.1L150.0,425.3L150.2,424.5L150.4,423.8L150.7,423.0L151.0,422.3L151.4,421.6L151.9,421.0L152.4,420.3L152.9,419.7L153.6,419.2L154.2,418.7L154.9,418.3L155.7,417.9L156.5,417.7L157.3,417.5L158.1,417.4L159.0,417.4L159.8,417.4L160.6,417.5L161.4,417.7L162.2,417.9L163.0,418.2L163.8,418.6L164.5,419.1L165.1,419.6L165.7,420.1L166.3,420.8L166.8,421.4L167.2,422.1L167.6,422.9L167.9,423.6L168.2,424.4L168.4,425.2L168.5,426.1Z" fill="#f7af91"/>
<path d="M167.1,426.9L167.1,427.6L167.0,428.3L166.8,429.0L166.5,429.6L166.2,430.3L165.9,430.9L165.5,431.5L165.1,432.0L164.6,432.5L164.0,432.9L163.5,433.3L162.9,433.6L162.2,433.9L161.6,434.1L160.9,434.3L160.3,434.4L159.6,434.5L159.0,434.5L158.3,434.5L157.6,434.5L157.0,434.3L156.3,434.2L155.7,433.9L155.1,433.6L154.5,433.3L154.0,432.9L153.5,432.4L153.0,431.9L152.6,431.4L152.2,430.8L151.8,430.2L151.6,429.6L151.4,428.9L151.2,428.3L151.1,427.6L151.1,426.9L151.1,426.2L151.1,425.5L151.2,424.8L151.4,424.2L151.7,423.5L152.0,422.9L152.3,422.3L152.8,421.7L153.2,421.2L153.7,420.7L154.3,420.2L154.9,419.8L155.5,419.5L156.2,419.2L156.8,419.0L157.5,418.8L158.3,418.7L159.0,418.7L159.7,418.8L160.4,418.9L161.1,419.0L161.8,419.2L162.4,419.5L163.1,419.8L163.7,420.1L164.3,420.6L164.8,421.1L165.3,421.6L165.7,422.2L166.1,422.8L166.4,423.4L166.7,424.1L166.9,424.8L167.0,425.5L167.1,426.2Z" fill="#f4987a"/>
<path d="M165.7,426.9L165.7,427.5L165.6,428.1L165.4,428.6L165.3,429.2L165.1,429.7L164.8,430.3L164.5,430.7L164.1,431.2L163.7,431.6L163.2,432.0L162.7,432.3L162.2,432.6L161.7,432.8L161.2,433.0L160.6,433.2L160.1,433.3L159.5,433.3L159.0,433.3L158.4,433.3L157.8,433.2L157.3,433.1L156.7,433.0L156.2,432.8L155.7,432.6L155.2,432.3L154.7,432.0L154.3,431.6L153.9,431.2L153.5,430.7L153.2,430.2L152.9,429.7L152.7,429.2L152.5,428.6L152.4,428.1L152.3,427.5L152.2,426.9L152.2,426.3L152.3,425.7L152.4,425.1L152.6,424.6L152.8,424.0L153.1,423.5L153.4,423.0L153.7,422.5L154.1,422.0L154.5,421.6L155.0,421.2L155.5,420.9L156.0,420.6L156.6,420.4L157.2,420.2L157.8,420.1L158.4,420.0L159.0,420.0L159.6,420.0L160.2,420.1L160.8,420.2L161.3,420.4L161.9,420.6L162.4,420.9L162.9,421.3L163.4,421.6L163.8,422.0L164.2,422.5L164.6,423.0L164.9,423.5L165.2,424.0L165.4,424.6L165.5,425.1L165.6,425.7L165.7,426.3Z" fill="#ec8165"/>
<path d="M164.4,426.9L164.4,427.4L164.3,427.8L164.2,428.3L164.1,428.7L163.8,429.2L163.6,429.6L163.3,429.9L163.0,430.3L162.7,430.6L162.4,430.9L162.0,431.2L161.6,431.5L161.2,431.7L160.8,431.9L160.3,432.0L159.9,432.1L159.4,432.1L159.0,432.2L158.5,432.1L158.1,432.1L157.6,432.0L157.1,431.9L156.7,431.8L156.3,431.6L155.8,431.4L155.4,431.1L155.1,430.8L154.7,430.4L154.4,430.1L154.2,429.7L154.0,429.2L153.8,428.8L153.6,428.3L153.6,427.9L153.5,427.4L153.5,426.9L153.5,426.4L153.6,425.9L153.7,425.5L153.8,425.0L153.9,424.5L154.1,424.1L154.3,423.7L154.6,423.2L154.9,422.9L155.3,422.5L155.7,422.2L156.1,422.0L156.6,421.8L157.0,421.6L157.5,421.4L158.0,421.3L158.5,421.3L159.0,421.3L159.5,421.3L159.9,421.4L160.4,421.5L160.9,421.6L161.3,421.9L161.7,422.1L162.1,422.4L162.5,422.7L162.8,423.0L163.1,423.4L163.4,423.8L163.7,424.2L163.9,424.6L164.1,425.0L164.2,425.5L164.3,426.0L164.4,426.4Z" fill="#e16751"/>
<path d="M163.1,426.9L163.1,427.3L163.0,427.6L163.0,428.0L162.9,428.3L162.7,428.6L162.5,429.0L162.3,429.3L162.1,429.5L161.8,429.8L161.6,430.0L161.3,430.2L161.0,430.4L160.7,430.6L160.4,430.7L160.0,430.8L159.7,430.9L159.3,431.0L159.0,431.0L158.6,431.0L158.3,431.0L157.9,430.9L157.5,430.8L157.2,430.7L156.9,430.5L156.5,430.4L156.2,430.1L156.0,429.9L155.7,429.6L155.5,429.3L155.3,429.0L155.1,428.7L155.0,428.3L154.9,428.0L154.8,427.6L154.8,427.3L154.8,426.9L154.8,426.5L154.8,426.2L154.9,425.8L155.0,425.5L155.1,425.1L155.3,424.8L155.4,424.4L155.6,424.1L155.9,423.8L156.1,423.5L156.4,423.3L156.8,423.1L157.1,422.9L157.5,422.8L157.8,422.7L158.2,422.6L158.6,422.6L159.0,422.6L159.3,422.6L159.7,422.6L160.1,422.7L160.4,422.9L160.8,423.0L161.1,423.2L161.4,423.4L161.7,423.7L161.9,423.9L162.2,424.2L162.4,424.5L162.6,424.8L162.7,425.1L162.8,425.5L162.9,425.8L163.0,426.2L163.1,426.5Z" fill="#d1493f"/>
<path d="M161.5,426.9L161.5,427.1L161.5,427.3L161.5,427.6L161.4,427.8L161.3,428.0L161.2,428.2L161.1,428.4L161.0,428.6L160.8,428.8L160.7,428.9L160.5,429.1L160.3,429.2L160.1,429.3L159.9,429.4L159.7,429.5L159.4,429.5L159.2,429.6L159.0,429.6L158.7,429.6L158.5,429.6L158.3,429.5L158.0,429.4L157.8,429.4L157.6,429.3L157.4,429.1L157.2,429.0L157.0,428.9L156.8,428.7L156.7,428.5L156.5,428.3L156.4,428.1L156.3,427.9L156.2,427.6L156.2,427.4L156.1,427.1L156.1,426.9L156.2,426.6L156.2,426.4L156.2,426.2L156.3,425.9L156.4,425.7L156.5,425.5L156.6,425.2L156.8,425.0L156.9,424.8L157.1,424.7L157.3,424.5L157.5,424.4L157.7,424.2L158.0,424.1L158.2,424.1L158.5,424.0L158.7,424.0L159.0,424.0L159.2,424.0L159.5,424.0L159.7,424.1L160.0,424.2L160.2,424.3L160.4,424.4L160.6,424.6L160.8,424.8L160.9,425.0L161.0,425.2L161.2,425.4L161.3,425.6L161.3,425.8L161.4,426.0L161.5,426.2L161.5,426.5L161.5,426.7Z" fill="#be242e"/>
</g>
<rect x="362.0" y="511.82" width="8.5" height="14.48" fill="#455cce"/>
<rect x="362.0" y="497.64" width="8.5" height="14.48" fill="#5b7ae5"/>
<rect x="362.0" y="483.46" width="8.5" height="14.48" fill="#7396f5"/>
<rect x="362.0" y="469.29" width="8.5" height="14.48" fill="#8db0fe"/>
<rect x="362.0" y="455.11" width="8.5" height="14.48" fill="#a6c4fe"/>
<rect x="362.0" y="440.93" width="8.5" height="14.48" fill="#bed2f6"/>
<rect x="362.0" y="426.75" width="8.5" height="14.48" fill="#d3dbe7"/>
<rect x="362.0" y="412.57" width="8.5" height="14.48" fill="#e6d7cf"/>
<rect x="362.0" y="398.39" width="8.5" height="14.48" fill="#f2c9b4"/>
<rect x="362.0" y="384.21" width="8.5" height="14.48" fill="#f7b497"/>
<rect x="362.0" y="370.04" width="8.5" height="14.48" fill="#f4987a"/>
<rect x="362.0" y="355.86" width="8.5" height="14.48" fill="#e97a5f"/>
<rect x="362.0" y="341.68" width="8.5" height="14.48" fill="#d85646"/>
<rect x="362.0" y="327.50" width="8.5" height="14.48" fill="#c12b30"/>
<rect x="362.0" y="327.5" width="8.5" height="198.5" fill="none" stroke="#262626" stroke-width="1.3"/>
<rect x="87.0" y="10.0" width="232.0" height="205.5" fill="none" stroke="#262626" stroke-width="1.8"/><path d="M87.0,215.5v8M87.0,10.0v-8M133.4,215.5v8M133.4,10.0v-8M179.8,215.5v8M179.8,10.0v-8M226.2,215.5v8M226.2,10.0v-8M272.6,215.5v8M272.6,10.0v-8M319.0,215.5v8M319.0,10.0v-8M87.0,10.0h-8M319.0,10.0h8M87.0,61.4h-8M319.0,61.4h8M87.0,112.8h-8M319.0,112.8h8M87.0,164.1h-8M319.0,164.1h8M87.0,215.5h-8M319.0,215.5h8" stroke="#262626" stroke-width="1.7" fill="none"/>
<rect x="438.0" y="10.0" width="232.0" height="205.5" fill="none" stroke="#262626" stroke-width="1.8"/><path d="M438.0,215.5v8M438.0,10.0v-8M484.4,215.5v8M484.4,10.0v-8M530.8,215.5v8M530.8,10.0v-8M577.2,215.5v8M577.2,10.0v-8M623.6,215.5v8M623.6,10.0v-8M670.0,215.5v8M670.0,10.0v-8M438.0,10.0h-8M670.0,10.0h8M438.0,61.4h-8M670.0,61.4h8M438.0,112.8h-8M670.0,112.8h8M438.0,164.1h-8M670.0,164.1h8M438.0,215.5h-8M670.0,215.5h8" stroke="#262626" stroke-width="1.7" fill="none"/>
<rect x="87.0" y="323.5" width="232.0" height="205.5" fill="none" stroke="#262626" stroke-width="1.8"/><path d="M87.0,529.0v8M87.0,323.5v-8M145.0,529.0v8M145.0,323.5v-8M203.0,529.0v8M203.0,323.5v-8M261.0,529.0v8M261.0,323.5v-8M319.0,529.0v8M319.0,323.5v-8M87.0,323.5h-8M319.0,323.5h8M87.0,374.9h-8M319.0,374.9h8M87.0,426.2h-8M319.0,426.2h8M87.0,477.6h-8M319.0,477.6h8M87.0,529.0h-8M319.0,529.0h8" stroke="#262626" stroke-width="1.7" fill="none"/>
<text x="88.0" y="255.8" text-anchor="middle" font-size="22.3" >2.0</text>
<text x="134.4" y="255.8" text-anchor="middle" font-size="22.3" >2.5</text>
<text x="180.8" y="255.8" text-anchor="middle" font-size="22.3" >3.0</text>
<text x="227.2" y="255.8" text-anchor="middle" font-size="22.3" >3.5</text>
<text x="273.6" y="255.8" text-anchor="middle" font-size="22.3" >4.0</text>
<text x="320.0" y="255.8" text-anchor="middle" font-size="22.3" >4.5</text>
<text x="439.3" y="255.8" text-anchor="middle" font-size="22.3" >2.0</text>
<text x="485.7" y="255.8" text-anchor="middle" font-size="22.3" >2.5</text>
<text x="532.1" y="255.8" text-anchor="middle" font-size="22.3" >3.0</text>
<text x="578.5" y="255.8" text-anchor="middle" font-size="22.3" >3.5</text>
<text x="624.9" y="255.8" text-anchor="middle" font-size="22.3" >4.0</text>
<text x="671.3" y="255.8" text-anchor="middle" font-size="22.3" >4.5</text>
<text x="66.0" y="16.0" text-anchor="end" font-size="22.3" >180</text>
<text x="66.0" y="67.4" text-anchor="end" font-size="22.3" >135</text>
<text x="66.0" y="118.8" text-anchor="end" font-size="22.3" >90</text>
<text x="66.0" y="170.1" text-anchor="end" font-size="22.3" >45</text>
<text x="66.0" y="221.5" text-anchor="end" font-size="22.3" >0</text>
<text x="417.0" y="16.0" text-anchor="end" font-size="22.3" >90</text>
<text x="417.0" y="67.4" text-anchor="end" font-size="22.3" >45</text>
<text x="417.0" y="118.8" text-anchor="end" font-size="22.3" >0</text>
<text x="417.0" y="170.1" text-anchor="end" font-size="22.3" >−45</text>
<text x="417.0" y="221.5" text-anchor="end" font-size="22.3" >−90</text>
<text x="66.0" y="329.5" text-anchor="end" font-size="22.3" >90</text>
<text x="66.0" y="380.9" text-anchor="end" font-size="22.3" >45</text>
<text x="66.0" y="432.2" text-anchor="end" font-size="22.3" >0</text>
<text x="66.0" y="483.6" text-anchor="end" font-size="22.3" >−45</text>
<text x="66.0" y="535.0" text-anchor="end" font-size="22.3" >−90</text>
<text x="88.1" y="568.8" text-anchor="middle" font-size="22.3" >0</text>
<text x="146.1" y="568.8" text-anchor="middle" font-size="22.3" >45</text>
<text x="204.1" y="568.8" text-anchor="middle" font-size="22.3" >90</text>
<text x="262.1" y="568.8" text-anchor="middle" font-size="22.3" >135</text>
<text x="320.1" y="568.8" text-anchor="middle" font-size="22.3" >180</text>
<text x="168.5" y="78.5" text-anchor="middle" font-size="19.5" >D</text>
<text x="168.0" y="149.5" text-anchor="middle" font-size="19.5" >A</text>
<text x="519.3" y="27.2" text-anchor="middle" font-size="19.5" >D</text>
<text x="519.0" y="113.0" text-anchor="middle" font-size="19.5" >A</text>
<text x="519.3" y="211.5" text-anchor="middle" font-size="19.5" >D</text>
<text x="168.3" y="426.0" text-anchor="middle" font-size="19.5" >A</text>
<text x="249.0" y="341.0" text-anchor="middle" font-size="19.5" >D</text>
<text x="249.0" y="523.3" text-anchor="middle" font-size="19.5" >D</text>
<text x="181.5" y="283.6" font-size="26" class="m">R<tspan class="s" font-size="17" x="199" dy="6.8">OO</tspan></text>
<text x="532.5" y="283.6" font-size="26" class="m">R<tspan class="s" font-size="17" x="550" dy="6.8">OO</tspan></text>
<text x="203.5" y="598.3" font-size="27" text-anchor="middle" class="m">θ</text>
<text transform="translate(16.6,113) rotate(-90)" font-size="24" text-anchor="middle" class="m">θ</text>
<text transform="translate(366.7,112.7) rotate(-90) scale(1.25,1)" font-size="23" text-anchor="middle" class="m">φ</text>
<text transform="translate(16,427) rotate(-90) scale(1.25,1)" font-size="23" text-anchor="middle" class="m">φ</text>
<path d="M510.0,469.6L521.5,483.0" stroke="#8a8a8a" stroke-width="4.2" fill="none" stroke-linecap="round"/>
<path d="M510.0,469.6L521.5,483.0" stroke="#ededed" stroke-width="2.4" fill="none" stroke-linecap="round"/>
<path d="M529.5,466.4L521.5,483.0" stroke="#8a8a8a" stroke-width="4.2" fill="none" stroke-linecap="round"/>
<path d="M529.5,466.4L521.5,483.0" stroke="#ededed" stroke-width="2.4" fill="none" stroke-linecap="round"/>
<circle cx="510.0" cy="469.6" r="5.8" fill="url(#gH)"/>
<circle cx="529.5" cy="466.4" r="5.4" fill="url(#gH)"/>
<circle cx="521.5" cy="483.0" r="9.4" fill="url(#gO)"/>
<path d="M543.7,437.0L529.8,465.6" stroke="#45e0a8" stroke-width="3.1" fill="none" stroke-dasharray="0.85,0.85"/>
<path d="M546.4,436.2L522.3,483.8" stroke="#1f9a28" stroke-width="2.3" fill="none" />
<path d="M527.6,418.2L545.6,435.6" stroke="#8a8a8a" stroke-width="4.2" fill="none" stroke-linecap="round"/>
<path d="M527.6,418.2L545.6,435.6" stroke="#ededed" stroke-width="2.4" fill="none" stroke-linecap="round"/>
<path d="M562.4,419.0L545.6,435.6" stroke="#8a8a8a" stroke-width="4.2" fill="none" stroke-linecap="round"/>
<path d="M562.4,419.0L545.6,435.6" stroke="#ededed" stroke-width="2.4" fill="none" stroke-linecap="round"/>
<circle cx="527.6" cy="418.2" r="5.8" fill="url(#gH)"/>
<circle cx="545.6" cy="435.6" r="9.4" fill="url(#gO)"/>
<circle cx="562.4" cy="419.0" r="5.8" fill="url(#gH)"/>
<path d="M566.2,415.8L591.0,397.6" stroke="#45e0a8" stroke-width="3.1" fill="none" stroke-dasharray="0.85,0.85"/>
<path d="M588.4,376.8L597.7,390.1" stroke="#8a8a8a" stroke-width="4.2" fill="none" stroke-linecap="round"/>
<path d="M588.4,376.8L597.7,390.1" stroke="#ededed" stroke-width="2.4" fill="none" stroke-linecap="round"/>
<path d="M606.3,372.7L597.7,390.1" stroke="#8a8a8a" stroke-width="4.2" fill="none" stroke-linecap="round"/>
<path d="M606.3,372.7L597.7,390.1" stroke="#ededed" stroke-width="2.4" fill="none" stroke-linecap="round"/>
<circle cx="588.4" cy="376.8" r="5.9" fill="url(#gH)"/>
<circle cx="606.3" cy="372.7" r="5.6" fill="url(#gH)"/>
<circle cx="597.7" cy="390.1" r="9.5" fill="url(#gO)"/>
<path d="M545.5,436.0L545.5,404.7" stroke="#000" stroke-width="2.1" fill="none"/>
<path d="M545.5,397.3L549.3,405.5L541.7,405.5Z" fill="#000"/>
<path d="M545.5,436.0L569.9,442.5" stroke="#1212e6" stroke-width="2.3" fill="none"/>
<path d="M576.4,444.2L567.8,445.5L569.6,438.8Z" fill="#1212e6"/>
<path d="M543.8,420.1C529.3,422.6 526.8,438.5 532.1,448.9" stroke="#000" stroke-width="3.3" fill="none"/>
<path d="M534.8,453.0L526.7,449.8L533.8,444.4Z" fill="#000"/>
<path d="M557.9,445.2C557.7,452.7 553.5,457.2 547.2,458.2" stroke="#1212e6" stroke-width="3.3" fill="none"/>
<path d="M539.8,458.2L547.7,453.5L548.0,462.5Z" fill="#1212e6"/>
<text x="618.3" y="393.6" text-anchor="middle" font-size="18.5" >A</text>
<text x="500.9" y="488.6" text-anchor="middle" font-size="18.5" >D</text>
<text x="518.8" y="444.2" font-size="19" text-anchor="middle" class="m">θ</text>
<text transform="translate(562.1,463.7) scale(1.2,1)" font-size="19.5" text-anchor="middle" class="m">φ</text>
</svg>
</body></html>
